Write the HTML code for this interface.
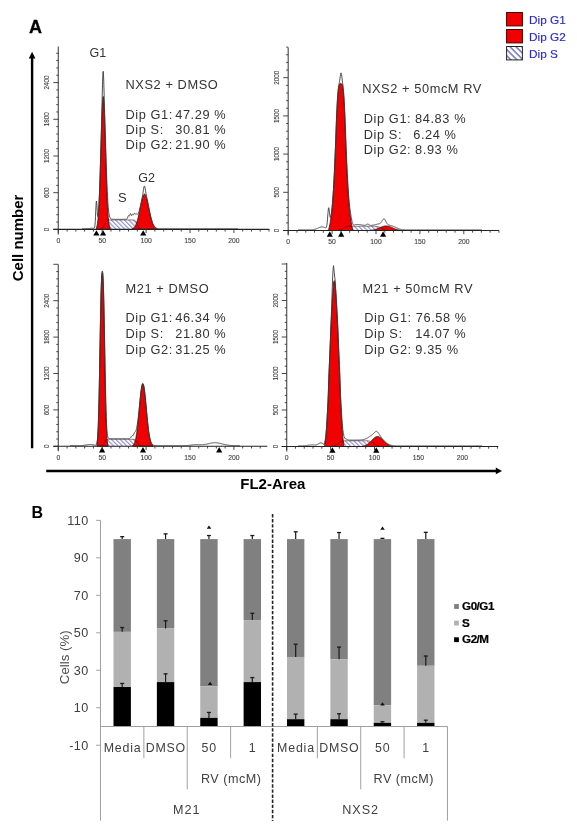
<!DOCTYPE html><html><head><meta charset="utf-8"><style>html,body{margin:0;padding:0;background:#fff;}svg{display:block;will-change:transform}</style></head><body>
<svg width="577" height="826" viewBox="0 0 577 826" font-family='"Liberation Sans", sans-serif'>
<defs><pattern id="hatch" patternUnits="userSpaceOnUse" width="3.1" height="3.1" patternTransform="rotate(-45)"><rect width="3.1" height="3.1" fill="#fff"/><line x1="0.6" y1="0" x2="0.6" y2="3.1" stroke="#8484d2" stroke-width="1.05"/></pattern><pattern id="hatchL" patternUnits="userSpaceOnUse" x="506" y="46" width="4.3" height="4.3" patternTransform="rotate(-45 514 53)"><rect width="4.3" height="4.3" fill="#fff"/><line x1="1" y1="0" x2="1" y2="4.3" stroke="#5a5ac0" stroke-width="1.3"/></pattern></defs>
<rect width="577" height="826" fill="#fff"/>
<text x="29.1" y="32.9" font-size="18" font-weight="bold" fill="#000" stroke="#000" stroke-width="0.3">A</text>
<rect x="506.6" y="12.5" width="15.8" height="13.4" fill="#f20000" stroke="#400" stroke-width="1"/>
<text x="529.0" y="23.6" font-size="11.8" fill="#2a2acc" stroke="#2a2acc" stroke-width="0.15">Dip G1</text>
<rect x="506.6" y="29.5" width="15.8" height="13.4" fill="#f20000" stroke="#400" stroke-width="1"/>
<text x="529.0" y="40.6" font-size="11.8" fill="#2a2acc" stroke="#2a2acc" stroke-width="0.15">Dip G2</text>
<rect x="506.6" y="46.5" width="15.8" height="13.4" fill="url(#hatchL)" stroke="#222" stroke-width="1"/>
<text x="529.0" y="57.6" font-size="11.8" fill="#2a2acc" stroke="#2a2acc" stroke-width="0.15">Dip S</text>
<line x1="32.1" y1="56" x2="32.1" y2="448.2" stroke="#000" stroke-width="2.4"/>
<path d="M32.1,51.8 L28.8,58.4 L35.4,58.4 Z" fill="#000"/>
<line x1="46.2" y1="470.9" x2="497" y2="470.9" stroke="#000" stroke-width="2.5"/>
<path d="M502,470.9 L495.8,467.6 L495.8,474.2 Z" fill="#000"/>
<text transform="translate(22.6 237.9) rotate(-90)" text-anchor="middle" font-size="15" font-weight="bold" fill="#000">Cell number</text>
<text x="240.3" y="489.2" font-size="15" font-weight="bold" fill="#000">FL2-Area</text>
<path d="M100.50,229.40 L100.50,229.34 L100.75,229.31 L101.00,229.26 L101.25,229.20 L101.50,229.11 L101.75,228.99 L102.00,228.84 L102.25,228.64 L102.50,228.40 L102.75,228.10 L103.00,227.74 L103.25,227.34 L103.50,226.87 L103.75,226.36 L104.00,225.82 L104.25,225.24 L104.50,224.65 L104.75,224.06 L105.00,223.48 L105.25,222.94 L105.50,222.43 L105.75,221.96 L106.00,221.56 L106.25,221.20 L106.50,220.90 L106.75,220.66 L107.00,220.46 L107.25,220.31 L107.50,220.19 L107.75,220.10 L108.00,220.04 L108.25,219.99 L108.50,219.96 L108.75,219.94 L109.00,219.92 L109.25,219.91 L109.50,219.91 L109.75,219.90 L110.00,219.90 L110.25,219.90 L110.50,219.90 L110.75,219.90 L111.00,219.90 L111.25,219.90 L111.50,219.90 L111.75,219.90 L112.00,219.90 L112.25,219.90 L112.50,219.90 L112.75,219.90 L113.00,219.90 L113.25,219.90 L113.50,219.90 L113.75,219.90 L114.00,219.90 L114.25,219.90 L114.50,219.90 L114.75,219.90 L115.00,219.90 L115.25,219.90 L115.50,219.90 L115.75,219.90 L116.00,219.90 L116.25,219.90 L116.50,219.90 L116.75,219.90 L117.00,219.90 L117.25,219.90 L117.50,219.90 L117.75,219.90 L118.00,219.90 L118.25,219.90 L118.50,219.90 L118.75,219.90 L119.00,219.90 L119.25,219.90 L119.50,219.90 L119.75,219.90 L120.00,219.90 L120.25,219.90 L120.50,219.90 L120.75,219.90 L121.00,219.90 L121.25,219.90 L121.50,219.90 L121.75,219.90 L122.00,219.90 L122.25,219.90 L122.50,219.90 L122.75,219.90 L123.00,219.90 L123.25,219.90 L123.50,219.90 L123.75,219.90 L124.00,219.90 L124.25,219.90 L124.50,219.90 L124.75,219.90 L125.00,219.90 L125.25,219.90 L125.50,219.90 L125.75,219.90 L126.00,219.90 L126.25,219.90 L126.50,219.90 L126.75,219.90 L127.00,219.90 L127.25,219.90 L127.50,219.90 L127.75,219.90 L128.00,219.90 L128.25,219.90 L128.50,219.90 L128.75,219.90 L129.00,219.90 L129.25,219.90 L129.50,219.90 L129.75,219.90 L130.00,219.90 L130.25,219.90 L130.50,219.90 L130.75,219.90 L131.00,219.90 L131.25,219.90 L131.50,219.90 L131.75,219.90 L132.00,219.90 L132.25,219.90 L132.50,219.91 L132.75,219.91 L133.00,219.92 L133.25,219.94 L133.50,219.96 L133.75,219.99 L134.00,220.04 L134.25,220.10 L134.50,220.19 L134.75,220.31 L135.00,220.46 L135.25,220.66 L135.50,220.90 L135.75,221.20 L136.00,221.56 L136.25,221.96 L136.50,222.43 L136.75,222.94 L137.00,223.48 L137.25,224.06 L137.50,224.65 L137.75,225.24 L138.00,225.82 L138.25,226.36 L138.50,226.87 L138.75,227.34 L139.00,227.74 L139.25,228.10 L139.50,228.40 L139.75,228.64 L140.00,228.84 L140.25,228.99 L140.50,229.11 L140.75,229.20 L141.00,229.26 L141.25,229.31 L141.50,229.34 L141.50,229.40 Z" fill="url(#hatch)" stroke="none"/>
<path d="M96.50,229.40 L96.50,227.49 L96.75,226.79 L97.00,225.88 L97.25,224.72 L97.50,223.23 L97.75,221.37 L98.00,219.07 L98.25,216.28 L98.50,212.92 L98.75,208.94 L99.00,204.30 L99.25,198.96 L99.50,192.93 L99.75,186.22 L100.00,178.87 L100.25,170.97 L100.50,162.63 L100.75,153.99 L101.00,145.23 L101.25,136.55 L101.50,128.19 L101.75,120.37 L102.00,113.32 L102.25,107.27 L102.50,102.42 L102.75,98.92 L103.00,96.90 L103.25,96.43 L103.50,97.53 L103.75,100.15 L104.00,104.21 L104.25,109.56 L104.50,116.03 L104.75,123.42 L105.00,131.48 L105.25,140.00 L105.50,148.73 L105.75,157.47 L106.00,166.01 L106.25,174.19 L106.50,181.88 L106.75,188.99 L107.00,195.43 L107.25,201.18 L107.50,206.23 L107.75,210.60 L108.00,214.33 L108.25,217.46 L108.50,220.05 L108.75,222.16 L109.00,223.87 L109.25,225.22 L109.50,226.28 L109.75,227.09 L110.00,227.72 L110.00,229.40 Z" fill="#f00000" stroke="#1a1a1a" stroke-width="0.8"/>
<path d="M131.75,229.40 L131.75,228.96 L132.00,228.88 L132.25,228.79 L132.50,228.68 L132.75,228.56 L133.00,228.41 L133.25,228.25 L133.50,228.06 L133.75,227.85 L134.00,227.61 L134.25,227.34 L134.50,227.04 L134.75,226.70 L135.00,226.32 L135.25,225.91 L135.50,225.45 L135.75,224.95 L136.00,224.40 L136.25,223.80 L136.50,223.15 L136.75,222.44 L137.00,221.69 L137.25,220.88 L137.50,220.02 L137.75,219.10 L138.00,218.14 L138.25,217.12 L138.50,216.07 L138.75,214.96 L139.00,213.82 L139.25,212.65 L139.50,211.45 L139.75,210.22 L140.00,208.98 L140.25,207.74 L140.50,206.50 L140.75,205.27 L141.00,204.05 L141.25,202.87 L141.50,201.73 L141.75,200.63 L142.00,199.59 L142.25,198.62 L142.50,197.72 L142.75,196.91 L143.00,196.18 L143.25,195.56 L143.50,195.04 L143.75,194.63 L144.00,194.34 L144.25,194.16 L144.50,194.10 L144.75,194.16 L145.00,194.34 L145.25,194.63 L145.50,195.04 L145.75,195.56 L146.00,196.18 L146.25,196.91 L146.50,197.72 L146.75,198.62 L147.00,199.59 L147.25,200.63 L147.50,201.73 L147.75,202.87 L148.00,204.05 L148.25,205.27 L148.50,206.50 L148.75,207.74 L149.00,208.98 L149.25,210.22 L149.50,211.45 L149.75,212.65 L150.00,213.82 L150.25,214.96 L150.50,216.07 L150.75,217.12 L151.00,218.14 L151.25,219.10 L151.50,220.02 L151.75,220.88 L152.00,221.69 L152.25,222.44 L152.50,223.15 L152.75,223.80 L153.00,224.40 L153.25,224.95 L153.50,225.45 L153.75,225.91 L154.00,226.32 L154.25,226.70 L154.50,227.04 L154.75,227.34 L155.00,227.61 L155.25,227.85 L155.50,228.06 L155.75,228.25 L156.00,228.41 L156.25,228.56 L156.50,228.68 L156.75,228.79 L157.00,228.88 L157.25,228.96 L157.25,229.40 Z" fill="#f00000" stroke="#1a1a1a" stroke-width="0.8"/>
<path d="M100.50,229.34 L100.75,229.31 L101.00,229.26 L101.25,229.20 L101.50,229.11 L101.75,228.99 L102.00,228.84 L102.25,228.64 L102.50,228.40 L102.75,228.10 L103.00,227.74 L103.25,227.34 L103.50,226.87 L103.75,226.36 L104.00,225.82 L104.25,225.24 L104.50,224.65 L104.75,224.06 L105.00,223.48 L105.25,222.94 L105.50,222.43 L105.75,221.96 L106.00,221.56 L106.25,221.20 L106.50,220.90 L106.75,220.66 L107.00,220.46 L107.25,220.31 L107.50,220.19 L107.75,220.10 L108.00,220.04 L108.25,219.99 L108.50,219.96 L108.75,219.94 L109.00,219.92 L109.25,219.91 L109.50,219.91 L109.75,219.90 L110.00,219.90 L110.25,219.90 L110.50,219.90 L110.75,219.90 L111.00,219.90 L111.25,219.90 L111.50,219.90 L111.75,219.90 L112.00,219.90 L112.25,219.90 L112.50,219.90 L112.75,219.90 L113.00,219.90 L113.25,219.90 L113.50,219.90 L113.75,219.90 L114.00,219.90 L114.25,219.90 L114.50,219.90 L114.75,219.90 L115.00,219.90 L115.25,219.90 L115.50,219.90 L115.75,219.90 L116.00,219.90 L116.25,219.90 L116.50,219.90 L116.75,219.90 L117.00,219.90 L117.25,219.90 L117.50,219.90 L117.75,219.90 L118.00,219.90 L118.25,219.90 L118.50,219.90 L118.75,219.90 L119.00,219.90 L119.25,219.90 L119.50,219.90 L119.75,219.90 L120.00,219.90 L120.25,219.90 L120.50,219.90 L120.75,219.90 L121.00,219.90 L121.25,219.90 L121.50,219.90 L121.75,219.90 L122.00,219.90 L122.25,219.90 L122.50,219.90 L122.75,219.90 L123.00,219.90 L123.25,219.90 L123.50,219.90 L123.75,219.90 L124.00,219.90 L124.25,219.90 L124.50,219.90 L124.75,219.90 L125.00,219.90 L125.25,219.90 L125.50,219.90 L125.75,219.90 L126.00,219.90 L126.25,219.90 L126.50,219.90 L126.75,219.90 L127.00,219.90 L127.25,219.90 L127.50,219.90 L127.75,219.90 L128.00,219.90 L128.25,219.90 L128.50,219.90 L128.75,219.90 L129.00,219.90 L129.25,219.90 L129.50,219.90 L129.75,219.90 L130.00,219.90 L130.25,219.90 L130.50,219.90 L130.75,219.90 L131.00,219.90 L131.25,219.90 L131.50,219.90 L131.75,219.90 L132.00,219.90 L132.25,219.90 L132.50,219.91 L132.75,219.91 L133.00,219.92 L133.25,219.94 L133.50,219.96 L133.75,219.99 L134.00,220.04 L134.25,220.10 L134.50,220.19 L134.75,220.31 L135.00,220.46 L135.25,220.66 L135.50,220.90 L135.75,221.20 L136.00,221.56 L136.25,221.96 L136.50,222.43 L136.75,222.94 L137.00,223.48 L137.25,224.06 L137.50,224.65 L137.75,225.24 L138.00,225.82 L138.25,226.36 L138.50,226.87 L138.75,227.34 L139.00,227.74 L139.25,228.10 L139.50,228.40 L139.75,228.64 L140.00,228.84 L140.25,228.99 L140.50,229.11 L140.75,229.20 L141.00,229.26 L141.25,229.31 L141.50,229.34" fill="none" stroke="#3a1010" stroke-width="0.7" opacity="0.8"/>
<path d="M82.00,228.80 L82.25,228.80 L82.50,228.80 L82.75,228.80 L83.00,228.80 L83.25,228.80 L83.50,228.80 L83.75,228.80 L84.00,228.80 L84.25,228.80 L84.50,228.79 L84.75,228.79 L85.00,228.79 L85.25,228.78 L85.50,228.78 L85.75,228.77 L86.00,228.77 L86.25,228.76 L86.50,228.75 L86.75,228.73 L87.00,228.72 L87.25,228.70 L87.50,228.68 L87.75,228.66 L88.00,228.63 L88.25,228.61 L88.50,228.57 L88.75,228.54 L89.00,228.51 L89.25,228.47 L89.50,228.44 L89.75,228.40 L90.00,228.36 L90.25,228.33 L90.50,228.30 L90.75,228.27 L91.00,228.25 L91.25,228.23 L91.50,228.21 L91.75,228.20 L92.00,228.20 L92.25,228.20 L92.50,228.21 L92.75,228.22 L93.00,228.24 L93.25,228.26 L93.50,228.28 L93.75,228.28 L94.00,228.25 L94.25,228.10 L94.50,227.68 L94.75,226.70 L95.00,224.76 L95.25,221.46 L95.50,216.71 L95.75,211.01 L96.00,205.56 L96.25,201.86 L96.50,201.03 L96.75,203.15 L97.00,207.20 L97.25,211.61 L97.50,215.01 L97.75,216.68 L98.00,216.53 L98.25,214.86 L98.50,212.00 L98.75,208.23 L99.00,203.65 L99.25,198.34 L99.50,192.32 L99.75,185.60 L100.00,178.25 L100.25,170.33 L100.50,161.94 L100.75,153.21 L101.00,144.23 L101.25,135.05 L101.50,125.61 L101.75,115.78 L102.00,105.47 L102.25,94.91 L102.50,84.89 L102.75,76.72 L103.00,71.88 L103.25,71.29 L103.50,74.86 L103.75,81.57 L104.00,89.96 L104.25,98.84 L104.50,107.57 L104.75,116.05 L105.00,124.39 L105.25,132.73 L105.50,141.09 L105.75,149.41 L106.00,157.56 L106.25,165.39 L106.50,172.79 L106.75,179.64 L107.00,185.89 L107.25,191.49 L107.50,196.42 L107.75,200.71 L108.00,204.37 L108.25,207.45 L108.50,210.01 L108.75,212.10 L109.00,213.79 L109.25,215.13 L109.50,216.19 L109.75,217.00 L110.00,217.62 L110.25,218.09 L110.50,218.44 L110.75,218.69 L111.00,218.88 L111.25,219.01 L111.50,219.10 L111.75,219.17 L112.00,219.21 L112.25,219.24 L112.50,219.26 L112.75,219.28 L113.00,219.28 L113.25,219.29 L113.50,219.29 L113.75,219.30 L114.00,219.30 L114.25,219.30 L114.50,219.30 L114.75,219.30 L115.00,219.30 L115.25,219.30 L115.50,219.30 L115.75,219.30 L116.00,219.30 L116.25,219.30 L116.50,219.30 L116.75,219.30 L117.00,219.30 L117.25,219.30 L117.50,219.30 L117.75,219.30 L118.00,219.30 L118.25,219.30 L118.50,219.30 L118.75,219.30 L119.00,219.30 L119.25,219.30 L119.50,219.30 L119.75,219.30 L120.00,219.30 L120.25,219.30 L120.50,219.30 L120.75,219.30 L121.00,219.30 L121.25,219.30 L121.50,219.30 L121.75,219.30 L122.00,219.30 L122.25,219.30 L122.50,219.30 L122.75,219.30 L123.00,219.30 L123.25,219.30 L123.50,219.30 L123.75,219.30 L124.00,219.30 L124.25,219.30 L124.50,219.30 L124.75,219.30 L125.00,219.30 L125.25,219.30 L125.50,219.30 L125.75,219.30 L126.00,219.29 L126.25,219.28 L126.50,219.24 L126.75,219.14 L127.00,218.94 L127.25,218.58 L127.50,218.02 L127.75,217.31 L128.00,216.56 L128.25,215.96 L128.50,215.67 L128.75,215.73 L129.00,215.98 L129.25,216.15 L129.50,215.98 L129.75,215.39 L130.00,214.56 L130.25,213.82 L130.50,213.50 L130.75,213.73 L131.00,214.37 L131.25,215.08 L131.50,215.51 L131.75,215.49 L132.00,215.10 L132.25,214.62 L132.50,214.32 L132.75,214.32 L133.00,214.54 L133.25,214.75 L133.50,214.75 L133.75,214.45 L134.00,213.95 L134.25,213.45 L134.50,213.15 L134.75,213.15 L135.00,213.42 L135.25,213.82 L135.50,214.15 L135.75,214.28 L136.00,214.20 L136.25,214.02 L136.50,213.90 L136.75,213.93 L137.00,214.08 L137.25,214.24 L137.50,214.29 L137.75,214.17 L138.00,213.89 L138.25,213.47 L138.50,212.93 L138.75,212.30 L139.00,211.57 L139.25,210.75 L139.50,209.84 L139.75,208.86 L140.00,207.82 L140.25,206.73 L140.50,205.61 L140.75,204.46 L141.00,203.29 L141.25,202.13 L141.50,200.95 L141.75,199.77 L142.00,198.54 L142.25,197.26 L142.50,195.88 L142.75,194.38 L143.00,192.77 L143.25,191.09 L143.50,189.44 L143.75,187.96 L144.00,186.81 L144.25,186.14 L144.50,186.04 L144.75,186.51 L145.00,187.47 L145.25,188.81 L145.50,190.35 L145.75,191.95 L146.00,193.50 L146.25,194.95 L146.50,196.29 L146.75,197.54 L147.00,198.73 L147.25,199.90 L147.50,201.06 L147.75,202.24 L148.00,203.44 L148.25,204.66 L148.50,205.90 L148.75,207.14 L149.00,208.38 L149.25,209.62 L149.50,210.85 L149.75,212.05 L150.00,213.22 L150.25,214.36 L150.50,215.47 L150.75,216.52 L151.00,217.54 L151.25,218.50 L151.50,219.42 L151.75,220.28 L152.00,221.09 L152.25,221.84 L152.50,222.55 L152.75,223.20 L153.00,223.80 L153.25,224.35 L153.50,224.85 L153.75,225.31 L154.00,225.72 L154.25,226.10 L154.50,226.44 L154.75,226.74 L155.00,227.01 L155.25,227.25 L155.50,227.46 L155.75,227.65 L156.00,227.81 L156.25,227.96 L156.50,228.08 L156.75,228.19 L157.00,228.28 L157.25,228.36 L157.50,228.43 L157.75,228.49 L158.00,228.54 L158.25,228.59 L158.50,228.62 L158.75,228.65 L159.00,228.68 L159.25,228.70 L159.50,228.72 L159.75,228.73 L160.00,228.75 L160.25,228.76 L160.50,228.77 L160.75,228.77 L161.00,228.78 L161.25,228.78 L161.50,228.79 L161.75,228.79 L162.00,228.79 L162.25,228.79 L162.50,228.79 L162.75,228.80 L163.00,228.80 L163.25,228.80 L163.50,228.80 L163.75,228.80 L164.00,228.80 L164.25,228.80 L164.50,228.80 L164.75,228.80 L165.00,228.80 L165.25,228.80 L165.50,228.80 L165.75,228.80 L166.00,228.80 L166.25,228.80 L166.50,228.80 L166.75,228.80 L167.00,228.80 L167.25,228.80 L167.50,228.80 L167.75,228.80 L168.00,228.80 L168.25,228.80 L168.50,228.80 L168.75,228.80 L169.00,228.80 L169.25,228.80 L169.50,228.80 L169.75,228.80 L170.00,228.80 L170.25,228.80 L170.50,228.80 L170.75,228.80 L171.00,228.80 L171.25,228.80 L171.50,228.80 L171.75,228.80 L172.00,228.80 L172.25,228.80 L172.50,228.80 L172.75,228.80 L173.00,228.80 L173.25,228.80 L173.50,228.80 L173.75,228.80 L174.00,228.80 L174.25,228.80 L174.50,228.80 L174.75,228.80 L175.00,228.80 L175.25,228.80 L175.50,228.80 L175.75,228.80 L176.00,228.80 L176.25,228.80 L176.50,228.80 L176.75,228.80 L177.00,228.80 L177.25,228.80 L177.50,228.80 L177.75,228.80 L178.00,228.80 L178.25,228.80 L178.50,228.80 L178.75,228.80 L179.00,228.80 L179.25,228.80 L179.50,228.80 L179.75,228.80 L180.00,228.80 L180.25,228.80 L180.50,228.80 L180.75,228.80 L181.00,228.80 L181.25,228.80 L181.50,228.80 L181.75,228.80 L182.00,228.80 L182.25,228.80 L182.50,228.80 L182.75,228.80 L183.00,228.80 L183.25,228.80 L183.50,228.80 L183.75,228.80 L184.00,228.80 L184.25,228.80 L184.50,228.80 L184.75,228.80 L185.00,228.80 L185.25,228.80 L185.50,228.80 L185.75,228.80 L186.00,228.80 L186.25,228.80 L186.50,228.80 L186.75,228.80 L187.00,228.80 L187.25,228.80 L187.50,228.80 L187.75,228.80 L188.00,228.80 L188.25,228.80 L188.50,228.80 L188.75,228.80 L189.00,228.80 L189.25,228.80 L189.50,228.80 L189.75,228.80 L190.00,228.80 L190.25,228.80 L190.50,228.80 L190.75,228.80 L191.00,228.80 L191.25,228.80 L191.50,228.80 L191.75,228.80 L192.00,228.80 L192.25,228.80 L192.50,228.80 L192.75,228.80 L193.00,228.80 L193.25,228.80 L193.50,228.80 L193.75,228.80 L194.00,228.80 L194.25,228.80 L194.50,228.80 L194.75,228.80 L195.00,228.80 L195.25,228.80 L195.50,228.80 L195.75,228.80 L196.00,228.80 L196.25,228.80 L196.50,228.80 L196.75,228.80 L197.00,228.80 L197.25,228.80 L197.50,228.80 L197.75,228.80 L198.00,228.80 L198.25,228.80 L198.50,228.80 L198.75,228.80 L199.00,228.80 L199.25,228.80 L199.50,228.80 L199.75,228.80 L200.00,228.80 L200.25,228.80 L200.50,228.80 L200.75,228.80 L201.00,228.80 L201.25,228.80 L201.50,228.80 L201.75,228.80 L202.00,228.80 L202.25,228.80 L202.50,228.80 L202.75,228.80 L203.00,228.80 L203.25,228.80 L203.50,228.80 L203.75,228.80 L204.00,228.80 L204.25,228.80 L204.50,228.80 L204.75,228.80 L205.00,228.80 L205.25,228.80 L205.50,228.80 L205.75,228.80 L206.00,228.80 L206.25,228.80 L206.50,228.80 L206.75,228.80 L207.00,228.80 L207.25,228.80 L207.50,228.80 L207.75,228.80 L208.00,228.80 L208.25,228.80 L208.50,228.80 L208.75,228.80 L209.00,228.80 L209.25,228.80 L209.50,228.80 L209.75,228.80 L210.00,228.80 L210.25,228.80 L210.50,228.80 L210.75,228.80 L211.00,228.80 L211.25,228.80 L211.50,228.80 L211.75,228.80 L212.00,228.80 L212.25,228.80 L212.50,228.80 L212.75,228.80 L213.00,228.80 L213.25,228.80 L213.50,228.80 L213.75,228.80 L214.00,228.80 L214.25,228.80 L214.50,228.80 L214.75,228.80 L215.00,228.80 L215.25,228.80 L215.50,228.80 L215.75,228.80 L216.00,228.80 L216.25,228.80 L216.50,228.80 L216.75,228.80 L217.00,228.80 L217.25,228.80 L217.50,228.80 L217.75,228.80 L218.00,228.80 L218.25,228.80 L218.50,228.80 L218.75,228.80 L219.00,228.80 L219.25,228.80 L219.50,228.80 L219.75,228.80 L220.00,228.80 L220.25,228.80 L220.50,228.80 L220.75,228.80 L221.00,228.80 L221.25,228.80 L221.50,228.80 L221.75,228.80 L222.00,228.80 L222.25,228.80 L222.50,228.80 L222.75,228.80 L223.00,228.80 L223.25,228.80 L223.50,228.80 L223.75,228.80 L224.00,228.80 L224.25,228.80 L224.50,228.80 L224.75,228.80 L225.00,228.80 L225.25,228.80 L225.50,228.80 L225.75,228.80 L226.00,228.80 L226.25,228.80 L226.50,228.80 L226.75,228.80 L227.00,228.80 L227.25,228.80 L227.50,228.80 L227.75,228.80 L228.00,228.80 L228.25,228.80 L228.50,228.80 L228.75,228.80 L229.00,228.80 L229.25,228.80 L229.50,228.80 L229.75,228.80 L230.00,228.80 L230.25,228.80 L230.50,228.80 L230.75,228.80 L231.00,228.80 L231.25,228.80 L231.50,228.80 L231.75,228.80 L232.00,228.80 L232.25,228.80 L232.50,228.80 L232.75,228.80 L233.00,228.80 L233.25,228.80 L233.50,228.80 L233.75,228.80 L234.00,228.80 L234.25,228.80 L234.50,228.80 L234.75,228.80 L235.00,228.80 L235.25,228.80 L235.50,228.80 L235.75,228.80 L236.00,228.80 L236.25,228.80 L236.50,228.80 L236.75,228.80 L237.00,228.80 L237.25,228.80 L237.50,228.80 L237.75,228.80 L238.00,228.80" fill="none" stroke="#3a3a3a" stroke-width="0.9"/>
<path d="M96.4,230.20000000000002 L93.30000000000001,235.6 L99.5,235.6 Z" fill="#000"/>
<path d="M103.1,230.20000000000002 L100.0,235.6 L106.19999999999999,235.6 Z" fill="#000"/>
<path d="M143.2,230.20000000000002 L140.1,235.6 L146.29999999999998,235.6 Z" fill="#000"/>
<line x1="58.3" y1="46.5" x2="58.3" y2="234.4" stroke="#555" stroke-width="1.2"/>
<line x1="53.30" y1="229.40" x2="58.3" y2="229.40" stroke="#333" stroke-width="0.9"/>
<text x="47.10" y="229.40" transform="rotate(-90 47.10 229.40)" text-anchor="middle" dy="2.2" font-size="6.3" fill="#444" stroke="#444" stroke-width="0.12">0</text>
<line x1="56.30" y1="222.06" x2="58.3" y2="222.06" stroke="#333" stroke-width="0.9"/>
<line x1="56.30" y1="214.72" x2="58.3" y2="214.72" stroke="#333" stroke-width="0.9"/>
<line x1="56.30" y1="207.38" x2="58.3" y2="207.38" stroke="#333" stroke-width="0.9"/>
<line x1="56.30" y1="200.04" x2="58.3" y2="200.04" stroke="#333" stroke-width="0.9"/>
<line x1="53.30" y1="192.70" x2="58.3" y2="192.70" stroke="#333" stroke-width="0.9"/>
<text x="47.10" y="192.70" transform="rotate(-90 47.10 192.70)" text-anchor="middle" dy="2.2" font-size="6.3" fill="#444" stroke="#444" stroke-width="0.12">600</text>
<line x1="56.30" y1="185.36" x2="58.3" y2="185.36" stroke="#333" stroke-width="0.9"/>
<line x1="56.30" y1="178.02" x2="58.3" y2="178.02" stroke="#333" stroke-width="0.9"/>
<line x1="56.30" y1="170.68" x2="58.3" y2="170.68" stroke="#333" stroke-width="0.9"/>
<line x1="56.30" y1="163.34" x2="58.3" y2="163.34" stroke="#333" stroke-width="0.9"/>
<line x1="53.30" y1="156.00" x2="58.3" y2="156.00" stroke="#333" stroke-width="0.9"/>
<text x="47.10" y="156.00" transform="rotate(-90 47.10 156.00)" text-anchor="middle" dy="2.2" font-size="6.3" fill="#444" stroke="#444" stroke-width="0.12">1200</text>
<line x1="56.30" y1="148.66" x2="58.3" y2="148.66" stroke="#333" stroke-width="0.9"/>
<line x1="56.30" y1="141.32" x2="58.3" y2="141.32" stroke="#333" stroke-width="0.9"/>
<line x1="56.30" y1="133.98" x2="58.3" y2="133.98" stroke="#333" stroke-width="0.9"/>
<line x1="56.30" y1="126.64" x2="58.3" y2="126.64" stroke="#333" stroke-width="0.9"/>
<line x1="53.30" y1="119.30" x2="58.3" y2="119.30" stroke="#333" stroke-width="0.9"/>
<text x="47.10" y="119.30" transform="rotate(-90 47.10 119.30)" text-anchor="middle" dy="2.2" font-size="6.3" fill="#444" stroke="#444" stroke-width="0.12">1800</text>
<line x1="56.30" y1="111.96" x2="58.3" y2="111.96" stroke="#333" stroke-width="0.9"/>
<line x1="56.30" y1="104.62" x2="58.3" y2="104.62" stroke="#333" stroke-width="0.9"/>
<line x1="56.30" y1="97.28" x2="58.3" y2="97.28" stroke="#333" stroke-width="0.9"/>
<line x1="56.30" y1="89.94" x2="58.3" y2="89.94" stroke="#333" stroke-width="0.9"/>
<line x1="53.30" y1="82.60" x2="58.3" y2="82.60" stroke="#333" stroke-width="0.9"/>
<text x="47.10" y="82.60" transform="rotate(-90 47.10 82.60)" text-anchor="middle" dy="2.2" font-size="6.3" fill="#444" stroke="#444" stroke-width="0.12">2400</text>
<line x1="56.30" y1="75.26" x2="58.3" y2="75.26" stroke="#333" stroke-width="0.9"/>
<line x1="56.30" y1="67.92" x2="58.3" y2="67.92" stroke="#333" stroke-width="0.9"/>
<line x1="56.30" y1="60.58" x2="58.3" y2="60.58" stroke="#333" stroke-width="0.9"/>
<line x1="56.30" y1="53.24" x2="58.3" y2="53.24" stroke="#333" stroke-width="0.9"/>
<line x1="53.3" y1="229.4" x2="269.4" y2="229.4" stroke="#222" stroke-width="1.1"/>
<line x1="58.30" y1="229.4" x2="58.30" y2="233.0" stroke="#333" stroke-width="0.9"/>
<line x1="67.08" y1="229.4" x2="67.08" y2="231.6" stroke="#333" stroke-width="0.9"/>
<line x1="75.86" y1="229.4" x2="75.86" y2="231.6" stroke="#333" stroke-width="0.9"/>
<line x1="84.64" y1="229.4" x2="84.64" y2="231.6" stroke="#333" stroke-width="0.9"/>
<line x1="93.42" y1="229.4" x2="93.42" y2="231.6" stroke="#333" stroke-width="0.9"/>
<line x1="102.20" y1="229.4" x2="102.20" y2="233.0" stroke="#333" stroke-width="0.9"/>
<line x1="110.98" y1="229.4" x2="110.98" y2="231.6" stroke="#333" stroke-width="0.9"/>
<line x1="119.76" y1="229.4" x2="119.76" y2="231.6" stroke="#333" stroke-width="0.9"/>
<line x1="128.54" y1="229.4" x2="128.54" y2="231.6" stroke="#333" stroke-width="0.9"/>
<line x1="137.32" y1="229.4" x2="137.32" y2="231.6" stroke="#333" stroke-width="0.9"/>
<line x1="146.10" y1="229.4" x2="146.10" y2="233.0" stroke="#333" stroke-width="0.9"/>
<line x1="154.88" y1="229.4" x2="154.88" y2="231.6" stroke="#333" stroke-width="0.9"/>
<line x1="163.66" y1="229.4" x2="163.66" y2="231.6" stroke="#333" stroke-width="0.9"/>
<line x1="172.44" y1="229.4" x2="172.44" y2="231.6" stroke="#333" stroke-width="0.9"/>
<line x1="181.22" y1="229.4" x2="181.22" y2="231.6" stroke="#333" stroke-width="0.9"/>
<line x1="190.00" y1="229.4" x2="190.00" y2="233.0" stroke="#333" stroke-width="0.9"/>
<line x1="198.78" y1="229.4" x2="198.78" y2="231.6" stroke="#333" stroke-width="0.9"/>
<line x1="207.56" y1="229.4" x2="207.56" y2="231.6" stroke="#333" stroke-width="0.9"/>
<line x1="216.34" y1="229.4" x2="216.34" y2="231.6" stroke="#333" stroke-width="0.9"/>
<line x1="225.12" y1="229.4" x2="225.12" y2="231.6" stroke="#333" stroke-width="0.9"/>
<line x1="233.90" y1="229.4" x2="233.90" y2="233.0" stroke="#333" stroke-width="0.9"/>
<line x1="242.68" y1="229.4" x2="242.68" y2="231.6" stroke="#333" stroke-width="0.9"/>
<line x1="251.46" y1="229.4" x2="251.46" y2="231.6" stroke="#333" stroke-width="0.9"/>
<line x1="260.24" y1="229.4" x2="260.24" y2="231.6" stroke="#333" stroke-width="0.9"/>
<line x1="269.02" y1="229.4" x2="269.02" y2="231.6" stroke="#333" stroke-width="0.9"/>
<text x="58.30" y="242.70000000000002" text-anchor="middle" font-size="6.8" fill="#444" stroke="#444" stroke-width="0.12">0</text>
<text x="102.20" y="242.70000000000002" text-anchor="middle" font-size="6.8" fill="#444" stroke="#444" stroke-width="0.12">50</text>
<text x="146.10" y="242.70000000000002" text-anchor="middle" font-size="6.8" fill="#444" stroke="#444" stroke-width="0.12">100</text>
<text x="190.00" y="242.70000000000002" text-anchor="middle" font-size="6.8" fill="#444" stroke="#444" stroke-width="0.12">150</text>
<text x="233.90" y="242.70000000000002" text-anchor="middle" font-size="6.8" fill="#444" stroke="#444" stroke-width="0.12">200</text>
<path d="M336.25,230.50 L336.25,230.45 L336.50,230.44 L336.75,230.42 L337.00,230.40 L337.25,230.38 L337.50,230.36 L337.75,230.33 L338.00,230.30 L338.25,230.26 L338.50,230.22 L338.75,230.17 L339.00,230.12 L339.25,230.06 L339.50,229.99 L339.75,229.91 L340.00,229.83 L340.25,229.75 L340.50,229.65 L340.75,229.55 L341.00,229.44 L341.25,229.32 L341.50,229.20 L341.75,229.08 L342.00,228.95 L342.25,228.81 L342.50,228.68 L342.75,228.54 L343.00,228.40 L343.25,228.26 L343.50,228.12 L343.75,227.99 L344.00,227.85 L344.25,227.72 L344.50,227.60 L344.75,227.48 L345.00,227.36 L345.25,227.25 L345.50,227.15 L345.75,227.05 L346.00,226.97 L346.25,226.89 L346.50,226.81 L346.75,226.74 L347.00,226.68 L347.25,226.63 L347.50,226.58 L347.75,226.54 L348.00,226.50 L348.25,226.47 L348.50,226.44 L348.75,226.42 L349.00,226.40 L349.25,226.38 L349.50,226.36 L349.75,226.35 L350.00,226.34 L350.25,226.33 L350.50,226.33 L350.75,226.32 L351.00,226.32 L351.25,226.31 L351.50,226.31 L351.75,226.31 L352.00,226.31 L352.25,226.30 L352.50,226.30 L352.75,226.30 L353.00,226.30 L353.25,226.30 L353.50,226.30 L353.75,226.30 L354.00,226.30 L354.25,226.30 L354.50,226.30 L354.75,226.30 L355.00,226.30 L355.25,226.30 L355.50,226.30 L355.75,226.30 L356.00,226.30 L356.25,226.30 L356.50,226.30 L356.75,226.30 L357.00,226.30 L357.25,226.30 L357.50,226.30 L357.75,226.30 L358.00,226.30 L358.25,226.30 L358.50,226.30 L358.75,226.30 L359.00,226.30 L359.25,226.30 L359.50,226.30 L359.75,226.30 L360.00,226.30 L360.25,226.30 L360.50,226.30 L360.75,226.30 L361.00,226.30 L361.25,226.30 L361.50,226.30 L361.75,226.30 L362.00,226.30 L362.25,226.30 L362.50,226.30 L362.75,226.30 L363.00,226.30 L363.25,226.30 L363.50,226.30 L363.75,226.30 L364.00,226.30 L364.25,226.30 L364.50,226.30 L364.75,226.30 L365.00,226.30 L365.25,226.30 L365.50,226.30 L365.75,226.30 L366.00,226.30 L366.25,226.30 L366.50,226.30 L366.75,226.30 L367.00,226.30 L367.25,226.30 L367.50,226.30 L367.75,226.30 L368.00,226.30 L368.25,226.30 L368.50,226.30 L368.75,226.30 L369.00,226.30 L369.25,226.30 L369.50,226.30 L369.75,226.30 L370.00,226.30 L370.25,226.30 L370.50,226.30 L370.75,226.30 L371.00,226.30 L371.25,226.30 L371.50,226.30 L371.75,226.30 L372.00,226.30 L372.25,226.30 L372.50,226.30 L372.75,226.30 L373.00,226.31 L373.25,226.31 L373.50,226.31 L373.75,226.31 L374.00,226.32 L374.25,226.32 L374.50,226.33 L374.75,226.33 L375.00,226.34 L375.25,226.35 L375.50,226.36 L375.75,226.38 L376.00,226.40 L376.25,226.42 L376.50,226.44 L376.75,226.47 L377.00,226.50 L377.25,226.54 L377.50,226.58 L377.75,226.63 L378.00,226.68 L378.25,226.74 L378.50,226.81 L378.75,226.89 L379.00,226.97 L379.25,227.05 L379.50,227.15 L379.75,227.25 L380.00,227.36 L380.25,227.48 L380.50,227.60 L380.75,227.72 L381.00,227.85 L381.25,227.99 L381.50,228.12 L381.75,228.26 L382.00,228.40 L382.25,228.54 L382.50,228.68 L382.75,228.81 L383.00,228.95 L383.25,229.08 L383.50,229.20 L383.75,229.32 L384.00,229.44 L384.25,229.55 L384.50,229.65 L384.75,229.75 L385.00,229.83 L385.25,229.91 L385.50,229.99 L385.75,230.06 L386.00,230.12 L386.25,230.17 L386.50,230.22 L386.75,230.26 L387.00,230.30 L387.25,230.33 L387.50,230.36 L387.75,230.38 L388.00,230.40 L388.25,230.42 L388.50,230.44 L388.75,230.45 L388.75,230.50 Z" fill="url(#hatch)" stroke="none"/>
<path d="M328.75,230.50 L328.75,228.71 L329.00,228.04 L329.25,227.25 L329.50,226.00 L329.75,224.75 L330.00,223.50 L330.25,222.15 L330.50,220.40 L330.75,218.65 L331.00,216.90 L331.25,215.15 L331.50,213.40 L331.75,211.47 L332.00,208.83 L332.25,206.19 L332.50,203.56 L332.75,200.33 L333.00,196.72 L333.25,193.11 L333.50,189.50 L333.75,184.75 L334.00,180.00 L334.25,175.25 L334.50,170.50 L334.75,164.55 L335.00,158.60 L335.25,152.64 L335.50,146.69 L335.75,139.90 L336.00,132.90 L336.25,125.90 L336.50,118.90 L336.75,113.50 L337.00,108.50 L337.25,103.50 L337.50,98.92 L337.75,96.03 L338.00,93.13 L338.25,90.24 L338.50,88.03 L338.75,86.87 L339.00,85.70 L339.25,84.53 L339.50,84.16 L339.75,83.98 L340.00,83.80 L340.25,83.62 L340.50,83.44 L340.75,83.34 L341.00,83.51 L341.25,83.69 L341.50,83.87 L341.75,84.05 L342.00,84.23 L342.25,85.00 L342.50,86.17 L342.75,87.33 L343.00,88.50 L343.25,91.39 L343.50,94.29 L343.75,97.18 L344.00,100.50 L344.25,105.50 L344.50,110.50 L344.75,115.50 L345.00,121.70 L345.25,128.70 L345.50,135.70 L345.75,142.70 L346.00,149.07 L346.25,155.02 L346.50,160.98 L346.75,166.93 L347.00,172.40 L347.25,177.15 L347.50,181.90 L347.75,186.65 L348.00,190.94 L348.25,194.56 L348.50,198.17 L348.75,201.78 L349.00,204.61 L349.25,207.25 L349.50,209.89 L349.75,212.35 L350.00,214.10 L350.25,215.85 L350.50,217.60 L350.75,219.35 L351.00,221.10 L351.25,222.75 L351.50,224.00 L351.75,225.25 L352.00,226.50 L352.25,227.64 L352.50,228.31 L352.50,230.50 Z" fill="#f00000" stroke="#1a1a1a" stroke-width="0.8"/>
<path d="M371.50,230.50 L371.50,230.17 L371.75,230.14 L372.00,230.11 L372.25,230.08 L372.50,230.04 L372.75,230.00 L373.00,229.95 L373.25,229.91 L373.50,229.86 L373.75,229.81 L374.00,229.75 L374.25,229.69 L374.50,229.63 L374.75,229.57 L375.00,229.50 L375.25,229.43 L375.50,229.35 L375.75,229.28 L376.00,229.19 L376.25,229.11 L376.50,229.02 L376.75,228.93 L377.00,228.84 L377.25,228.75 L377.50,228.65 L377.75,228.55 L378.00,228.45 L378.25,228.34 L378.50,228.24 L378.75,228.13 L379.00,228.02 L379.25,227.91 L379.50,227.80 L379.75,227.69 L380.00,227.58 L380.25,227.47 L380.50,227.36 L380.75,227.25 L381.00,227.14 L381.25,227.04 L381.50,226.94 L381.75,226.84 L382.00,226.74 L382.25,226.65 L382.50,226.56 L382.75,226.47 L383.00,226.39 L383.25,226.32 L383.50,226.25 L383.75,226.18 L384.00,226.13 L384.25,226.07 L384.50,226.03 L384.75,225.99 L385.00,225.96 L385.25,225.93 L385.50,225.91 L385.75,225.90 L386.00,225.90 L386.25,225.90 L386.50,225.91 L386.75,225.93 L387.00,225.96 L387.25,225.99 L387.50,226.03 L387.75,226.07 L388.00,226.13 L388.25,226.18 L388.50,226.25 L388.75,226.32 L389.00,226.39 L389.25,226.47 L389.50,226.56 L389.75,226.65 L390.00,226.74 L390.25,226.84 L390.50,226.94 L390.75,227.04 L391.00,227.14 L391.25,227.25 L391.50,227.36 L391.75,227.47 L392.00,227.58 L392.25,227.69 L392.50,227.80 L392.75,227.91 L393.00,228.02 L393.25,228.13 L393.50,228.24 L393.75,228.34 L394.00,228.45 L394.25,228.55 L394.50,228.65 L394.75,228.75 L395.00,228.84 L395.25,228.93 L395.50,229.02 L395.75,229.11 L396.00,229.19 L396.25,229.28 L396.50,229.35 L396.75,229.43 L397.00,229.50 L397.25,229.57 L397.50,229.63 L397.75,229.69 L398.00,229.75 L398.25,229.81 L398.50,229.86 L398.75,229.91 L399.00,229.95 L399.25,230.00 L399.50,230.04 L399.75,230.08 L400.00,230.11 L400.25,230.14 L400.50,230.17 L400.50,230.50 Z" fill="#f00000" stroke="#1a1a1a" stroke-width="0.8"/>
<path d="M336.25,230.45 L336.50,230.44 L336.75,230.42 L337.00,230.40 L337.25,230.38 L337.50,230.36 L337.75,230.33 L338.00,230.30 L338.25,230.26 L338.50,230.22 L338.75,230.17 L339.00,230.12 L339.25,230.06 L339.50,229.99 L339.75,229.91 L340.00,229.83 L340.25,229.75 L340.50,229.65 L340.75,229.55 L341.00,229.44 L341.25,229.32 L341.50,229.20 L341.75,229.08 L342.00,228.95 L342.25,228.81 L342.50,228.68 L342.75,228.54 L343.00,228.40 L343.25,228.26 L343.50,228.12 L343.75,227.99 L344.00,227.85 L344.25,227.72 L344.50,227.60 L344.75,227.48 L345.00,227.36 L345.25,227.25 L345.50,227.15 L345.75,227.05 L346.00,226.97 L346.25,226.89 L346.50,226.81 L346.75,226.74 L347.00,226.68 L347.25,226.63 L347.50,226.58 L347.75,226.54 L348.00,226.50 L348.25,226.47 L348.50,226.44 L348.75,226.42 L349.00,226.40 L349.25,226.38 L349.50,226.36 L349.75,226.35 L350.00,226.34 L350.25,226.33 L350.50,226.33 L350.75,226.32 L351.00,226.32 L351.25,226.31 L351.50,226.31 L351.75,226.31 L352.00,226.31 L352.25,226.30 L352.50,226.30 L352.75,226.30 L353.00,226.30 L353.25,226.30 L353.50,226.30 L353.75,226.30 L354.00,226.30 L354.25,226.30 L354.50,226.30 L354.75,226.30 L355.00,226.30 L355.25,226.30 L355.50,226.30 L355.75,226.30 L356.00,226.30 L356.25,226.30 L356.50,226.30 L356.75,226.30 L357.00,226.30 L357.25,226.30 L357.50,226.30 L357.75,226.30 L358.00,226.30 L358.25,226.30 L358.50,226.30 L358.75,226.30 L359.00,226.30 L359.25,226.30 L359.50,226.30 L359.75,226.30 L360.00,226.30 L360.25,226.30 L360.50,226.30 L360.75,226.30 L361.00,226.30 L361.25,226.30 L361.50,226.30 L361.75,226.30 L362.00,226.30 L362.25,226.30 L362.50,226.30 L362.75,226.30 L363.00,226.30 L363.25,226.30 L363.50,226.30 L363.75,226.30 L364.00,226.30 L364.25,226.30 L364.50,226.30 L364.75,226.30 L365.00,226.30 L365.25,226.30 L365.50,226.30 L365.75,226.30 L366.00,226.30 L366.25,226.30 L366.50,226.30 L366.75,226.30 L367.00,226.30 L367.25,226.30 L367.50,226.30 L367.75,226.30 L368.00,226.30 L368.25,226.30 L368.50,226.30 L368.75,226.30 L369.00,226.30 L369.25,226.30 L369.50,226.30 L369.75,226.30 L370.00,226.30 L370.25,226.30 L370.50,226.30 L370.75,226.30 L371.00,226.30 L371.25,226.30 L371.50,226.30 L371.75,226.30 L372.00,226.30 L372.25,226.30 L372.50,226.30 L372.75,226.30 L373.00,226.31 L373.25,226.31 L373.50,226.31 L373.75,226.31 L374.00,226.32 L374.25,226.32 L374.50,226.33 L374.75,226.33 L375.00,226.34 L375.25,226.35 L375.50,226.36 L375.75,226.38 L376.00,226.40 L376.25,226.42 L376.50,226.44 L376.75,226.47 L377.00,226.50 L377.25,226.54 L377.50,226.58 L377.75,226.63 L378.00,226.68 L378.25,226.74 L378.50,226.81 L378.75,226.89 L379.00,226.97 L379.25,227.05 L379.50,227.15 L379.75,227.25 L380.00,227.36 L380.25,227.48 L380.50,227.60 L380.75,227.72 L381.00,227.85 L381.25,227.99 L381.50,228.12 L381.75,228.26 L382.00,228.40 L382.25,228.54 L382.50,228.68 L382.75,228.81 L383.00,228.95 L383.25,229.08 L383.50,229.20 L383.75,229.32 L384.00,229.44 L384.25,229.55 L384.50,229.65 L384.75,229.75 L385.00,229.83 L385.25,229.91 L385.50,229.99 L385.75,230.06 L386.00,230.12 L386.25,230.17 L386.50,230.22 L386.75,230.26 L387.00,230.30 L387.25,230.33 L387.50,230.36 L387.75,230.38 L388.00,230.40 L388.25,230.42 L388.50,230.44 L388.75,230.45" fill="none" stroke="#3a1010" stroke-width="0.7" opacity="0.8"/>
<path d="M298.00,229.90 L298.25,229.90 L298.50,229.90 L298.75,229.90 L299.00,229.90 L299.25,229.90 L299.50,229.90 L299.75,229.90 L300.00,229.90 L300.25,229.90 L300.50,229.90 L300.75,229.90 L301.00,229.90 L301.25,229.90 L301.50,229.90 L301.75,229.90 L302.00,229.90 L302.25,229.90 L302.50,229.90 L302.75,229.90 L303.00,229.90 L303.25,229.90 L303.50,229.90 L303.75,229.90 L304.00,229.90 L304.25,229.90 L304.50,229.90 L304.75,229.90 L305.00,229.90 L305.25,229.90 L305.50,229.90 L305.75,229.90 L306.00,229.90 L306.25,229.90 L306.50,229.90 L306.75,229.90 L307.00,229.90 L307.25,229.90 L307.50,229.90 L307.75,229.89 L308.00,229.89 L308.25,229.89 L308.50,229.89 L308.75,229.89 L309.00,229.88 L309.25,229.88 L309.50,229.88 L309.75,229.87 L310.00,229.87 L310.25,229.86 L310.50,229.85 L310.75,229.84 L311.00,229.83 L311.25,229.82 L311.50,229.80 L311.75,229.79 L312.00,229.77 L312.25,229.75 L312.50,229.72 L312.75,229.69 L313.00,229.66 L313.25,229.63 L313.50,229.59 L313.75,229.54 L314.00,229.49 L314.25,229.44 L314.50,229.38 L314.75,229.32 L315.00,229.25 L315.25,229.18 L315.50,229.10 L315.75,229.01 L316.00,228.93 L316.25,228.83 L316.50,228.73 L316.75,228.63 L317.00,228.53 L317.25,228.42 L317.50,228.31 L317.75,228.19 L318.00,228.08 L318.25,227.97 L318.50,227.85 L318.75,227.74 L319.00,227.64 L319.25,227.53 L319.50,227.43 L319.75,227.34 L320.00,227.25 L320.25,227.17 L320.50,227.10 L320.75,227.04 L321.00,226.99 L321.25,226.95 L321.50,226.92 L321.75,226.91 L322.00,226.90 L322.25,226.91 L322.50,226.92 L322.75,226.95 L323.00,226.99 L323.25,227.04 L323.50,227.10 L323.75,227.17 L324.00,227.25 L324.25,227.34 L324.50,227.43 L324.75,227.53 L325.00,227.63 L325.25,227.72 L325.50,227.80 L325.75,227.83 L326.00,227.77 L326.25,227.53 L326.50,226.99 L326.75,226.00 L327.00,224.41 L327.25,222.14 L327.50,219.26 L327.75,216.00 L328.00,212.73 L328.25,210.04 L328.50,208.11 L328.75,207.67 L329.00,208.67 L329.25,210.66 L329.50,212.75 L329.75,214.85 L330.00,216.53 L330.25,217.47 L330.50,217.33 L330.75,216.62 L331.00,215.49 L331.25,214.08 L331.50,212.51 L331.75,210.67 L332.00,208.09 L332.25,205.48 L332.50,202.86 L332.75,199.65 L333.00,196.05 L333.25,192.45 L333.50,188.85 L333.75,184.11 L334.00,179.36 L334.25,174.62 L334.50,169.87 L334.75,163.92 L335.00,157.96 L335.25,152.01 L335.50,146.05 L335.75,139.26 L336.00,132.25 L336.25,125.24 L336.50,118.23 L336.75,112.82 L337.00,107.80 L337.25,102.78 L337.50,98.18 L337.75,95.25 L338.00,92.32 L338.25,89.37 L338.50,87.08 L338.75,85.77 L339.00,84.32 L339.25,82.67 L339.50,81.49 L339.75,80.14 L340.00,78.41 L340.25,76.47 L340.50,74.59 L340.75,73.21 L341.00,72.85 L341.25,73.35 L341.50,74.57 L341.75,76.23 L342.00,77.96 L342.25,80.06 L342.50,82.19 L342.75,83.95 L343.00,85.40 L343.25,88.38 L343.50,91.24 L343.75,94.04 L344.00,97.24 L344.25,102.12 L344.50,106.99 L344.75,111.87 L345.00,117.95 L345.25,124.84 L345.50,131.74 L345.75,138.64 L346.00,144.92 L346.25,150.79 L346.50,156.67 L346.75,162.55 L347.00,167.96 L347.25,172.65 L347.50,177.34 L347.75,182.04 L348.00,186.29 L348.25,189.86 L348.50,193.44 L348.75,197.01 L349.00,199.81 L349.25,202.42 L349.50,205.03 L349.75,207.46 L350.00,209.18 L350.25,210.90 L350.50,212.62 L350.75,214.34 L351.00,216.06 L351.25,217.67 L351.50,218.89 L351.75,220.10 L352.00,221.32 L352.25,222.41 L352.50,223.05 L352.75,223.68 L353.00,224.31 L353.25,224.84 L353.50,224.94 L353.75,225.02 L354.00,224.97 L354.25,224.93 L354.50,224.88 L354.75,224.84 L355.00,224.79 L355.25,224.75 L355.50,224.71 L355.75,224.68 L356.00,224.64 L356.25,224.61 L356.50,224.58 L356.75,224.56 L357.00,224.54 L357.25,224.52 L357.50,224.51 L357.75,224.50 L358.00,224.50 L358.25,224.50 L358.50,224.51 L358.75,224.52 L359.00,224.54 L359.25,224.56 L359.50,224.58 L359.75,224.61 L360.00,224.64 L360.25,224.67 L360.50,224.71 L360.75,224.75 L361.00,224.79 L361.25,224.84 L361.50,224.88 L361.75,224.92 L362.00,224.97 L362.25,225.01 L362.50,225.06 L362.75,225.10 L363.00,225.14 L363.25,225.18 L363.50,225.22 L363.75,225.26 L364.00,225.29 L364.25,225.31 L364.50,225.32 L364.75,225.32 L365.00,225.30 L365.25,225.26 L365.50,225.19 L365.75,225.09 L366.00,224.96 L366.25,224.80 L366.50,224.63 L366.75,224.45 L367.00,224.29 L367.25,224.16 L367.50,224.09 L367.75,224.07 L368.00,224.12 L368.25,224.22 L368.50,224.36 L368.75,224.54 L369.00,224.72 L369.25,224.89 L369.50,225.04 L369.75,225.17 L370.00,225.26 L370.25,225.33 L370.50,225.37 L370.75,225.39 L371.00,225.39 L371.25,225.38 L371.50,225.36 L371.75,225.34 L372.00,225.31 L372.25,225.27 L372.50,225.24 L372.75,225.20 L373.00,225.16 L373.25,225.11 L373.50,225.07 L373.75,225.02 L374.00,224.97 L374.25,224.91 L374.50,224.86 L374.75,224.80 L375.00,224.74 L375.25,224.68 L375.50,224.62 L375.75,224.55 L376.00,224.49 L376.25,224.43 L376.50,224.36 L376.75,224.30 L377.00,224.24 L377.25,224.18 L377.50,224.12 L377.75,224.06 L378.00,224.01 L378.25,223.95 L378.50,223.89 L378.75,223.83 L379.00,223.77 L379.25,223.69 L379.50,223.60 L379.75,223.50 L380.00,223.37 L380.25,223.21 L380.50,223.02 L380.75,222.79 L381.00,222.52 L381.25,222.20 L381.50,221.85 L381.75,221.47 L382.00,221.06 L382.25,220.64 L382.50,220.23 L382.75,219.84 L383.00,219.50 L383.25,219.22 L383.50,219.02 L383.75,218.92 L384.00,218.91 L384.25,219.01 L384.50,219.22 L384.75,219.51 L385.00,219.88 L385.25,220.32 L385.50,220.79 L385.75,221.29 L386.00,221.79 L386.25,222.27 L386.50,222.73 L386.75,223.15 L387.00,223.53 L387.25,223.85 L387.50,224.14 L387.75,224.38 L388.00,224.58 L388.25,224.74 L388.50,224.88 L388.75,224.99 L389.00,225.09 L389.25,225.17 L389.50,225.24 L389.75,225.31 L390.00,225.37 L390.25,225.44 L390.50,225.50 L390.75,225.56 L391.00,225.63 L391.25,225.70 L391.50,225.77 L391.75,225.84 L392.00,225.92 L392.25,226.00 L392.50,226.08 L392.75,226.17 L393.00,226.26 L393.25,226.35 L393.50,226.44 L393.75,226.54 L394.00,226.65 L394.25,226.75 L394.50,226.86 L394.75,226.97 L395.00,227.08 L395.25,227.19 L395.50,227.31 L395.75,227.42 L396.00,227.54 L396.25,227.65 L396.50,227.77 L396.75,227.88 L397.00,227.99 L397.25,228.10 L397.50,228.21 L397.75,228.32 L398.00,228.42 L398.25,228.52 L398.50,228.62 L398.75,228.71 L399.00,228.80 L399.25,228.89 L399.50,228.97 L399.75,229.05 L400.00,229.12 L400.25,229.19 L400.50,229.25 L400.75,229.31 L401.00,229.37 L401.25,229.42 L401.50,229.47 L401.75,229.51 L402.00,229.55 L402.25,229.59 L402.50,229.63 L402.75,229.66 L403.00,229.68 L403.25,229.71 L403.50,229.73 L403.75,229.75 L404.00,229.77 L404.25,229.79 L404.50,229.80 L404.75,229.81 L405.00,229.82 L405.25,229.83 L405.50,229.84 L405.75,229.85 L406.00,229.86 L406.25,229.86 L406.50,229.87 L406.75,229.87 L407.00,229.88 L407.25,229.88 L407.50,229.88 L407.75,229.88 L408.00,229.89 L408.25,229.89 L408.50,229.89 L408.75,229.89 L409.00,229.89 L409.25,229.89 L409.50,229.89 L409.75,229.90 L410.00,229.90 L410.25,229.90 L410.50,229.90 L410.75,229.90 L411.00,229.90 L411.25,229.90 L411.50,229.90 L411.75,229.90 L412.00,229.90 L412.25,229.90 L412.50,229.90 L412.75,229.90 L413.00,229.90 L413.25,229.90 L413.50,229.90 L413.75,229.90 L414.00,229.90 L414.25,229.90 L414.50,229.90 L414.75,229.90 L415.00,229.90 L415.25,229.90 L415.50,229.90 L415.75,229.90 L416.00,229.90 L416.25,229.90 L416.50,229.90 L416.75,229.90 L417.00,229.90 L417.25,229.90 L417.50,229.90 L417.75,229.90 L418.00,229.90 L418.25,229.90 L418.50,229.90 L418.75,229.90 L419.00,229.90 L419.25,229.90 L419.50,229.90 L419.75,229.90 L420.00,229.90 L420.25,229.90 L420.50,229.90 L420.75,229.90 L421.00,229.90 L421.25,229.90 L421.50,229.90 L421.75,229.90 L422.00,229.90 L422.25,229.90 L422.50,229.90 L422.75,229.90 L423.00,229.90 L423.25,229.90 L423.50,229.90 L423.75,229.90 L424.00,229.90 L424.25,229.90 L424.50,229.90 L424.75,229.90 L425.00,229.90 L425.25,229.90 L425.50,229.90 L425.75,229.90 L426.00,229.90 L426.25,229.90 L426.50,229.90 L426.75,229.90 L427.00,229.90 L427.25,229.90 L427.50,229.90 L427.75,229.90 L428.00,229.90 L428.25,229.90 L428.50,229.90 L428.75,229.90 L429.00,229.90 L429.25,229.90 L429.50,229.90 L429.75,229.90 L430.00,229.90 L430.25,229.90 L430.50,229.90 L430.75,229.90 L431.00,229.90 L431.25,229.90 L431.50,229.90 L431.75,229.90 L432.00,229.90 L432.25,229.90 L432.50,229.90 L432.75,229.90 L433.00,229.90 L433.25,229.90 L433.50,229.90 L433.75,229.90 L434.00,229.90 L434.25,229.90 L434.50,229.90 L434.75,229.90 L435.00,229.90 L435.25,229.90 L435.50,229.90 L435.75,229.90 L436.00,229.90 L436.25,229.90 L436.50,229.90 L436.75,229.90 L437.00,229.90 L437.25,229.90 L437.50,229.90 L437.75,229.90 L438.00,229.90 L438.25,229.90 L438.50,229.90 L438.75,229.90 L439.00,229.90 L439.25,229.90 L439.50,229.90 L439.75,229.90 L440.00,229.90 L440.25,229.90 L440.50,229.90 L440.75,229.90 L441.00,229.90 L441.25,229.90 L441.50,229.90 L441.75,229.90 L442.00,229.90 L442.25,229.90 L442.50,229.90 L442.75,229.90 L443.00,229.90 L443.25,229.90 L443.50,229.90 L443.75,229.90 L444.00,229.90 L444.25,229.90 L444.50,229.90 L444.75,229.90 L445.00,229.90 L445.25,229.90 L445.50,229.90 L445.75,229.90 L446.00,229.90 L446.25,229.90 L446.50,229.90 L446.75,229.90 L447.00,229.90 L447.25,229.90 L447.50,229.90 L447.75,229.90 L448.00,229.90 L448.25,229.90 L448.50,229.90 L448.75,229.90 L449.00,229.90 L449.25,229.90 L449.50,229.90 L449.75,229.90 L450.00,229.90 L450.25,229.90 L450.50,229.90 L450.75,229.90 L451.00,229.90 L451.25,229.90 L451.50,229.90 L451.75,229.90 L452.00,229.90 L452.25,229.90 L452.50,229.90 L452.75,229.90 L453.00,229.90 L453.25,229.90 L453.50,229.90 L453.75,229.90 L454.00,229.90 L454.25,229.90 L454.50,229.90 L454.75,229.90 L455.00,229.90 L455.25,229.90 L455.50,229.90 L455.75,229.90 L456.00,229.90 L456.25,229.90 L456.50,229.90 L456.75,229.90 L457.00,229.90 L457.25,229.90 L457.50,229.90 L457.75,229.90 L458.00,229.90 L458.25,229.90 L458.50,229.90 L458.75,229.90 L459.00,229.90 L459.25,229.90 L459.50,229.90 L459.75,229.90 L460.00,229.90 L460.25,229.90 L460.50,229.90 L460.75,229.90 L461.00,229.90 L461.25,229.90 L461.50,229.90 L461.75,229.90 L462.00,229.90 L462.25,229.90 L462.50,229.90 L462.75,229.90 L463.00,229.90 L463.25,229.90 L463.50,229.90 L463.75,229.90 L464.00,229.90 L464.25,229.90 L464.50,229.90 L464.75,229.90 L465.00,229.90 L465.25,229.90 L465.50,229.90 L465.75,229.90 L466.00,229.90 L466.25,229.90 L466.50,229.90 L466.75,229.90 L467.00,229.90 L467.25,229.90 L467.50,229.90 L467.75,229.90 L468.00,229.90 L468.25,229.90 L468.50,229.90 L468.75,229.90 L469.00,229.90 L469.25,229.90 L469.50,229.90 L469.75,229.90 L470.00,229.90 L470.25,229.90 L470.50,229.90 L470.75,229.90 L471.00,229.90 L471.25,229.90 L471.50,229.90 L471.75,229.90 L472.00,229.90 L472.25,229.90 L472.50,229.90 L472.75,229.90 L473.00,229.90 L473.25,229.90 L473.50,229.90 L473.75,229.90 L474.00,229.90 L474.25,229.90 L474.50,229.90 L474.75,229.90 L475.00,229.90 L475.25,229.90 L475.50,229.90 L475.75,229.90 L476.00,229.90 L476.25,229.90 L476.50,229.90 L476.75,229.90 L477.00,229.90 L477.25,229.90 L477.50,229.90 L477.75,229.90 L478.00,229.90 L478.25,229.90 L478.50,229.90 L478.75,229.90 L479.00,229.90 L479.25,229.90 L479.50,229.90 L479.75,229.90 L480.00,229.90 L480.25,229.90 L480.50,229.90 L480.75,229.90 L481.00,229.90 L481.25,229.90 L481.50,229.90 L481.75,229.90 L482.00,229.90" fill="none" stroke="#3a3a3a" stroke-width="0.9"/>
<path d="M329.8,231.3 L326.7,236.7 L332.90000000000003,236.7 Z" fill="#000"/>
<path d="M341.2,231.3 L338.09999999999997,236.7 L344.3,236.7 Z" fill="#000"/>
<path d="M383.1,231.3 L380.0,236.7 L386.20000000000005,236.7 Z" fill="#000"/>
<line x1="288.2" y1="47.5" x2="288.2" y2="235.5" stroke="#555" stroke-width="1.2"/>
<line x1="283.20" y1="230.50" x2="288.2" y2="230.50" stroke="#333" stroke-width="0.9"/>
<text x="277.00" y="230.50" transform="rotate(-90 277.00 230.50)" text-anchor="middle" dy="2.2" font-size="6.3" fill="#444" stroke="#444" stroke-width="0.12">0</text>
<line x1="286.20" y1="222.86" x2="288.2" y2="222.86" stroke="#333" stroke-width="0.9"/>
<line x1="286.20" y1="215.22" x2="288.2" y2="215.22" stroke="#333" stroke-width="0.9"/>
<line x1="286.20" y1="207.58" x2="288.2" y2="207.58" stroke="#333" stroke-width="0.9"/>
<line x1="286.20" y1="199.94" x2="288.2" y2="199.94" stroke="#333" stroke-width="0.9"/>
<line x1="283.20" y1="192.30" x2="288.2" y2="192.30" stroke="#333" stroke-width="0.9"/>
<text x="277.00" y="192.30" transform="rotate(-90 277.00 192.30)" text-anchor="middle" dy="2.2" font-size="6.3" fill="#444" stroke="#444" stroke-width="0.12">500</text>
<line x1="286.20" y1="184.66" x2="288.2" y2="184.66" stroke="#333" stroke-width="0.9"/>
<line x1="286.20" y1="177.02" x2="288.2" y2="177.02" stroke="#333" stroke-width="0.9"/>
<line x1="286.20" y1="169.38" x2="288.2" y2="169.38" stroke="#333" stroke-width="0.9"/>
<line x1="286.20" y1="161.74" x2="288.2" y2="161.74" stroke="#333" stroke-width="0.9"/>
<line x1="283.20" y1="154.10" x2="288.2" y2="154.10" stroke="#333" stroke-width="0.9"/>
<text x="277.00" y="154.10" transform="rotate(-90 277.00 154.10)" text-anchor="middle" dy="2.2" font-size="6.3" fill="#444" stroke="#444" stroke-width="0.12">1000</text>
<line x1="286.20" y1="146.46" x2="288.2" y2="146.46" stroke="#333" stroke-width="0.9"/>
<line x1="286.20" y1="138.82" x2="288.2" y2="138.82" stroke="#333" stroke-width="0.9"/>
<line x1="286.20" y1="131.18" x2="288.2" y2="131.18" stroke="#333" stroke-width="0.9"/>
<line x1="286.20" y1="123.54" x2="288.2" y2="123.54" stroke="#333" stroke-width="0.9"/>
<line x1="283.20" y1="115.90" x2="288.2" y2="115.90" stroke="#333" stroke-width="0.9"/>
<text x="277.00" y="115.90" transform="rotate(-90 277.00 115.90)" text-anchor="middle" dy="2.2" font-size="6.3" fill="#444" stroke="#444" stroke-width="0.12">1500</text>
<line x1="286.20" y1="108.26" x2="288.2" y2="108.26" stroke="#333" stroke-width="0.9"/>
<line x1="286.20" y1="100.62" x2="288.2" y2="100.62" stroke="#333" stroke-width="0.9"/>
<line x1="286.20" y1="92.98" x2="288.2" y2="92.98" stroke="#333" stroke-width="0.9"/>
<line x1="286.20" y1="85.34" x2="288.2" y2="85.34" stroke="#333" stroke-width="0.9"/>
<line x1="283.20" y1="77.70" x2="288.2" y2="77.70" stroke="#333" stroke-width="0.9"/>
<text x="277.00" y="77.70" transform="rotate(-90 277.00 77.70)" text-anchor="middle" dy="2.2" font-size="6.3" fill="#444" stroke="#444" stroke-width="0.12">2000</text>
<line x1="286.20" y1="70.06" x2="288.2" y2="70.06" stroke="#333" stroke-width="0.9"/>
<line x1="286.20" y1="62.42" x2="288.2" y2="62.42" stroke="#333" stroke-width="0.9"/>
<line x1="286.20" y1="54.78" x2="288.2" y2="54.78" stroke="#333" stroke-width="0.9"/>
<line x1="286.20" y1="47.14" x2="288.2" y2="47.14" stroke="#333" stroke-width="0.9"/>
<line x1="283.2" y1="230.5" x2="499" y2="230.5" stroke="#222" stroke-width="1.1"/>
<line x1="288.20" y1="230.5" x2="288.20" y2="234.1" stroke="#333" stroke-width="0.9"/>
<line x1="296.98" y1="230.5" x2="296.98" y2="232.7" stroke="#333" stroke-width="0.9"/>
<line x1="305.76" y1="230.5" x2="305.76" y2="232.7" stroke="#333" stroke-width="0.9"/>
<line x1="314.54" y1="230.5" x2="314.54" y2="232.7" stroke="#333" stroke-width="0.9"/>
<line x1="323.32" y1="230.5" x2="323.32" y2="232.7" stroke="#333" stroke-width="0.9"/>
<line x1="332.10" y1="230.5" x2="332.10" y2="234.1" stroke="#333" stroke-width="0.9"/>
<line x1="340.88" y1="230.5" x2="340.88" y2="232.7" stroke="#333" stroke-width="0.9"/>
<line x1="349.66" y1="230.5" x2="349.66" y2="232.7" stroke="#333" stroke-width="0.9"/>
<line x1="358.44" y1="230.5" x2="358.44" y2="232.7" stroke="#333" stroke-width="0.9"/>
<line x1="367.22" y1="230.5" x2="367.22" y2="232.7" stroke="#333" stroke-width="0.9"/>
<line x1="376.00" y1="230.5" x2="376.00" y2="234.1" stroke="#333" stroke-width="0.9"/>
<line x1="384.78" y1="230.5" x2="384.78" y2="232.7" stroke="#333" stroke-width="0.9"/>
<line x1="393.56" y1="230.5" x2="393.56" y2="232.7" stroke="#333" stroke-width="0.9"/>
<line x1="402.34" y1="230.5" x2="402.34" y2="232.7" stroke="#333" stroke-width="0.9"/>
<line x1="411.12" y1="230.5" x2="411.12" y2="232.7" stroke="#333" stroke-width="0.9"/>
<line x1="419.90" y1="230.5" x2="419.90" y2="234.1" stroke="#333" stroke-width="0.9"/>
<line x1="428.68" y1="230.5" x2="428.68" y2="232.7" stroke="#333" stroke-width="0.9"/>
<line x1="437.46" y1="230.5" x2="437.46" y2="232.7" stroke="#333" stroke-width="0.9"/>
<line x1="446.24" y1="230.5" x2="446.24" y2="232.7" stroke="#333" stroke-width="0.9"/>
<line x1="455.02" y1="230.5" x2="455.02" y2="232.7" stroke="#333" stroke-width="0.9"/>
<line x1="463.80" y1="230.5" x2="463.80" y2="234.1" stroke="#333" stroke-width="0.9"/>
<line x1="472.58" y1="230.5" x2="472.58" y2="232.7" stroke="#333" stroke-width="0.9"/>
<line x1="481.36" y1="230.5" x2="481.36" y2="232.7" stroke="#333" stroke-width="0.9"/>
<line x1="490.14" y1="230.5" x2="490.14" y2="232.7" stroke="#333" stroke-width="0.9"/>
<line x1="498.92" y1="230.5" x2="498.92" y2="232.7" stroke="#333" stroke-width="0.9"/>
<text x="288.20" y="243.8" text-anchor="middle" font-size="6.8" fill="#444" stroke="#444" stroke-width="0.12">0</text>
<text x="332.10" y="243.8" text-anchor="middle" font-size="6.8" fill="#444" stroke="#444" stroke-width="0.12">50</text>
<text x="376.00" y="243.8" text-anchor="middle" font-size="6.8" fill="#444" stroke="#444" stroke-width="0.12">100</text>
<text x="419.90" y="243.8" text-anchor="middle" font-size="6.8" fill="#444" stroke="#444" stroke-width="0.12">150</text>
<text x="463.80" y="243.8" text-anchor="middle" font-size="6.8" fill="#444" stroke="#444" stroke-width="0.12">200</text>
<path d="M100.25,446.30 L100.25,446.23 L100.50,446.20 L100.75,446.15 L101.00,446.09 L101.25,446.00 L101.50,445.89 L101.75,445.74 L102.00,445.56 L102.25,445.34 L102.50,445.08 L102.75,444.78 L103.00,444.44 L103.25,444.06 L103.50,443.66 L103.75,443.23 L104.00,442.80 L104.25,442.37 L104.50,441.94 L104.75,441.54 L105.00,441.16 L105.25,440.82 L105.50,440.52 L105.75,440.26 L106.00,440.04 L106.25,439.86 L106.50,439.71 L106.75,439.60 L107.00,439.51 L107.25,439.45 L107.50,439.40 L107.75,439.37 L108.00,439.34 L108.25,439.33 L108.50,439.32 L108.75,439.31 L109.00,439.31 L109.25,439.30 L109.50,439.30 L109.75,439.30 L110.00,439.30 L110.25,439.30 L110.50,439.30 L110.75,439.30 L111.00,439.30 L111.25,439.30 L111.50,439.30 L111.75,439.30 L112.00,439.30 L112.25,439.30 L112.50,439.30 L112.75,439.30 L113.00,439.30 L113.25,439.30 L113.50,439.30 L113.75,439.30 L114.00,439.30 L114.25,439.30 L114.50,439.30 L114.75,439.30 L115.00,439.30 L115.25,439.30 L115.50,439.30 L115.75,439.30 L116.00,439.30 L116.25,439.30 L116.50,439.30 L116.75,439.30 L117.00,439.30 L117.25,439.30 L117.50,439.30 L117.75,439.30 L118.00,439.30 L118.25,439.30 L118.50,439.30 L118.75,439.30 L119.00,439.30 L119.25,439.30 L119.50,439.30 L119.75,439.30 L120.00,439.30 L120.25,439.30 L120.50,439.30 L120.75,439.30 L121.00,439.30 L121.25,439.30 L121.50,439.30 L121.75,439.30 L122.00,439.30 L122.25,439.30 L122.50,439.30 L122.75,439.30 L123.00,439.30 L123.25,439.30 L123.50,439.30 L123.75,439.30 L124.00,439.30 L124.25,439.30 L124.50,439.30 L124.75,439.30 L125.00,439.30 L125.25,439.30 L125.50,439.30 L125.75,439.30 L126.00,439.30 L126.25,439.30 L126.50,439.30 L126.75,439.30 L127.00,439.30 L127.25,439.30 L127.50,439.30 L127.75,439.30 L128.00,439.30 L128.25,439.30 L128.50,439.30 L128.75,439.30 L129.00,439.30 L129.25,439.30 L129.50,439.30 L129.75,439.30 L130.00,439.30 L130.25,439.30 L130.50,439.30 L130.75,439.30 L131.00,439.30 L131.25,439.30 L131.50,439.30 L131.75,439.30 L132.00,439.30 L132.25,439.30 L132.50,439.31 L132.75,439.31 L133.00,439.32 L133.25,439.33 L133.50,439.34 L133.75,439.37 L134.00,439.40 L134.25,439.45 L134.50,439.51 L134.75,439.60 L135.00,439.71 L135.25,439.86 L135.50,440.04 L135.75,440.26 L136.00,440.52 L136.25,440.82 L136.50,441.16 L136.75,441.54 L137.00,441.94 L137.25,442.37 L137.50,442.80 L137.75,443.23 L138.00,443.66 L138.25,444.06 L138.50,444.44 L138.75,444.78 L139.00,445.08 L139.25,445.34 L139.50,445.56 L139.75,445.74 L140.00,445.89 L140.25,446.00 L140.50,446.09 L140.75,446.15 L141.00,446.20 L141.25,446.23 L141.25,446.30 Z" fill="url(#hatch)" stroke="none"/>
<path d="M97.00,446.30 L97.00,443.49 L97.25,441.89 L97.50,439.58 L97.75,436.36 L98.00,432.01 L98.25,426.34 L98.50,419.17 L98.75,410.42 L99.00,400.07 L99.25,388.23 L99.50,375.15 L99.75,361.17 L100.00,346.77 L100.25,332.47 L100.50,318.83 L100.75,306.39 L101.00,295.60 L101.25,286.80 L101.50,280.19 L101.75,275.79 L102.00,273.43 L102.25,272.71 L102.50,272.97 L102.75,274.61 L103.00,278.17 L103.25,283.89 L103.50,291.83 L103.75,301.85 L104.00,313.68 L104.25,326.90 L104.50,341.01 L104.75,355.43 L105.00,369.64 L105.25,383.13 L105.50,395.50 L105.75,406.47 L106.00,415.87 L106.25,423.66 L106.50,429.91 L106.75,434.77 L107.00,438.41 L107.25,441.06 L107.50,442.93 L107.75,444.19 L107.75,446.30 Z" fill="#f00000" stroke="#1a1a1a" stroke-width="0.8"/>
<path d="M132.75,446.30 L132.75,445.40 L133.00,445.20 L133.25,444.95 L133.50,444.65 L133.75,444.30 L134.00,443.89 L134.25,443.41 L134.50,442.85 L134.75,442.20 L135.00,441.46 L135.25,440.61 L135.50,439.65 L135.75,438.57 L136.00,437.35 L136.25,436.01 L136.50,434.52 L136.75,432.89 L137.00,431.11 L137.25,429.19 L137.50,427.13 L137.75,424.92 L138.00,422.59 L138.25,420.15 L138.50,417.60 L138.75,414.97 L139.00,412.28 L139.25,409.55 L139.50,406.81 L139.75,404.08 L140.00,401.41 L140.25,398.82 L140.50,396.33 L140.75,394.00 L141.00,391.84 L141.25,389.89 L141.50,388.18 L141.75,386.72 L142.00,385.56 L142.25,384.69 L142.50,384.14 L142.75,383.91 L143.00,384.00 L143.25,384.43 L143.50,385.17 L143.75,386.22 L144.00,387.56 L144.25,389.17 L144.50,391.03 L144.75,393.11 L145.00,395.38 L145.25,397.81 L145.50,400.36 L145.75,403.01 L146.00,405.71 L146.25,408.45 L146.50,411.19 L146.75,413.90 L147.00,416.56 L147.25,419.14 L147.50,421.63 L147.75,424.01 L148.00,426.26 L148.25,428.38 L148.50,430.36 L148.75,432.20 L149.00,433.89 L149.25,435.43 L149.50,436.83 L149.75,438.10 L150.00,439.23 L150.25,440.24 L150.50,441.13 L150.75,441.91 L151.00,442.60 L151.25,443.19 L151.50,443.70 L151.75,444.14 L152.00,444.52 L152.25,444.83 L152.50,445.10 L152.75,445.33 L153.00,445.51 L153.00,446.30 Z" fill="#f00000" stroke="#1a1a1a" stroke-width="0.8"/>
<path d="M100.25,446.23 L100.50,446.20 L100.75,446.15 L101.00,446.09 L101.25,446.00 L101.50,445.89 L101.75,445.74 L102.00,445.56 L102.25,445.34 L102.50,445.08 L102.75,444.78 L103.00,444.44 L103.25,444.06 L103.50,443.66 L103.75,443.23 L104.00,442.80 L104.25,442.37 L104.50,441.94 L104.75,441.54 L105.00,441.16 L105.25,440.82 L105.50,440.52 L105.75,440.26 L106.00,440.04 L106.25,439.86 L106.50,439.71 L106.75,439.60 L107.00,439.51 L107.25,439.45 L107.50,439.40 L107.75,439.37 L108.00,439.34 L108.25,439.33 L108.50,439.32 L108.75,439.31 L109.00,439.31 L109.25,439.30 L109.50,439.30 L109.75,439.30 L110.00,439.30 L110.25,439.30 L110.50,439.30 L110.75,439.30 L111.00,439.30 L111.25,439.30 L111.50,439.30 L111.75,439.30 L112.00,439.30 L112.25,439.30 L112.50,439.30 L112.75,439.30 L113.00,439.30 L113.25,439.30 L113.50,439.30 L113.75,439.30 L114.00,439.30 L114.25,439.30 L114.50,439.30 L114.75,439.30 L115.00,439.30 L115.25,439.30 L115.50,439.30 L115.75,439.30 L116.00,439.30 L116.25,439.30 L116.50,439.30 L116.75,439.30 L117.00,439.30 L117.25,439.30 L117.50,439.30 L117.75,439.30 L118.00,439.30 L118.25,439.30 L118.50,439.30 L118.75,439.30 L119.00,439.30 L119.25,439.30 L119.50,439.30 L119.75,439.30 L120.00,439.30 L120.25,439.30 L120.50,439.30 L120.75,439.30 L121.00,439.30 L121.25,439.30 L121.50,439.30 L121.75,439.30 L122.00,439.30 L122.25,439.30 L122.50,439.30 L122.75,439.30 L123.00,439.30 L123.25,439.30 L123.50,439.30 L123.75,439.30 L124.00,439.30 L124.25,439.30 L124.50,439.30 L124.75,439.30 L125.00,439.30 L125.25,439.30 L125.50,439.30 L125.75,439.30 L126.00,439.30 L126.25,439.30 L126.50,439.30 L126.75,439.30 L127.00,439.30 L127.25,439.30 L127.50,439.30 L127.75,439.30 L128.00,439.30 L128.25,439.30 L128.50,439.30 L128.75,439.30 L129.00,439.30 L129.25,439.30 L129.50,439.30 L129.75,439.30 L130.00,439.30 L130.25,439.30 L130.50,439.30 L130.75,439.30 L131.00,439.30 L131.25,439.30 L131.50,439.30 L131.75,439.30 L132.00,439.30 L132.25,439.30 L132.50,439.31 L132.75,439.31 L133.00,439.32 L133.25,439.33 L133.50,439.34 L133.75,439.37 L134.00,439.40 L134.25,439.45 L134.50,439.51 L134.75,439.60 L135.00,439.71 L135.25,439.86 L135.50,440.04 L135.75,440.26 L136.00,440.52 L136.25,440.82 L136.50,441.16 L136.75,441.54 L137.00,441.94 L137.25,442.37 L137.50,442.80 L137.75,443.23 L138.00,443.66 L138.25,444.06 L138.50,444.44 L138.75,444.78 L139.00,445.08 L139.25,445.34 L139.50,445.56 L139.75,445.74 L140.00,445.89 L140.25,446.00 L140.50,446.09 L140.75,446.15 L141.00,446.20 L141.25,446.23" fill="none" stroke="#3a1010" stroke-width="0.7" opacity="0.8"/>
<path d="M70.00,445.70 L70.25,445.70 L70.50,445.70 L70.75,445.70 L71.00,445.70 L71.25,445.70 L71.50,445.70 L71.75,445.70 L72.00,445.70 L72.25,445.70 L72.50,445.70 L72.75,445.70 L73.00,445.70 L73.25,445.70 L73.50,445.70 L73.75,445.70 L74.00,445.70 L74.25,445.70 L74.50,445.70 L74.75,445.70 L75.00,445.70 L75.25,445.70 L75.50,445.70 L75.75,445.70 L76.00,445.70 L76.25,445.70 L76.50,445.70 L76.75,445.70 L77.00,445.69 L77.25,445.69 L77.50,445.69 L77.75,445.69 L78.00,445.69 L78.25,445.68 L78.50,445.68 L78.75,445.68 L79.00,445.67 L79.25,445.67 L79.50,445.66 L79.75,445.65 L80.00,445.65 L80.25,445.64 L80.50,445.63 L80.75,445.62 L81.00,445.60 L81.25,445.59 L81.50,445.57 L81.75,445.56 L82.00,445.54 L82.25,445.52 L82.50,445.49 L82.75,445.47 L83.00,445.44 L83.25,445.41 L83.50,445.38 L83.75,445.35 L84.00,445.31 L84.25,445.27 L84.50,445.23 L84.75,445.19 L85.00,445.15 L85.25,445.11 L85.50,445.06 L85.75,445.02 L86.00,444.97 L86.25,444.93 L86.50,444.88 L86.75,444.84 L87.00,444.79 L87.25,444.75 L87.50,444.71 L87.75,444.68 L88.00,444.64 L88.25,444.61 L88.50,444.58 L88.75,444.56 L89.00,444.54 L89.25,444.52 L89.50,444.51 L89.75,444.50 L90.00,444.50 L90.25,444.50 L90.50,444.51 L90.75,444.52 L91.00,444.54 L91.25,444.56 L91.50,444.58 L91.75,444.61 L92.00,444.64 L92.25,444.68 L92.50,444.71 L92.75,444.75 L93.00,444.79 L93.25,444.84 L93.50,444.88 L93.75,444.93 L94.00,444.97 L94.25,445.02 L94.50,445.06 L94.75,445.10 L95.00,445.13 L95.25,445.14 L95.50,445.14 L95.75,445.09 L96.00,444.97 L96.25,444.75 L96.50,444.34 L96.75,443.68 L97.00,442.63 L97.25,441.06 L97.50,438.77 L97.75,435.58 L98.00,431.25 L98.25,425.59 L98.50,418.45 L98.75,409.71 L99.00,399.37 L99.25,387.54 L99.50,374.46 L99.75,360.48 L100.00,346.07 L100.25,331.76 L100.50,318.09 L100.75,305.61 L101.00,294.76 L101.25,285.88 L101.50,279.16 L101.75,274.61 L102.00,272.07 L102.25,271.14 L102.50,271.15 L102.75,272.49 L103.00,275.70 L103.25,281.05 L103.50,288.58 L103.75,298.18 L104.00,309.58 L104.25,322.37 L104.50,336.05 L104.75,350.07 L105.00,363.90 L105.25,377.05 L105.50,389.12 L105.75,399.82 L106.00,409.00 L106.25,416.62 L106.50,422.73 L106.75,427.47 L107.00,431.03 L107.25,433.61 L107.50,435.43 L107.75,436.66 L108.00,437.47 L108.25,437.98 L108.50,438.29 L108.75,438.48 L109.00,438.58 L109.25,438.64 L109.50,438.67 L109.75,438.69 L110.00,438.69 L110.25,438.70 L110.50,438.70 L110.75,438.70 L111.00,438.70 L111.25,438.70 L111.50,438.70 L111.75,438.70 L112.00,438.70 L112.25,438.70 L112.50,438.70 L112.75,438.70 L113.00,438.70 L113.25,438.70 L113.50,438.70 L113.75,438.70 L114.00,438.70 L114.25,438.70 L114.50,438.70 L114.75,438.70 L115.00,438.70 L115.25,438.70 L115.50,438.70 L115.75,438.70 L116.00,438.70 L116.25,438.70 L116.50,438.70 L116.75,438.70 L117.00,438.70 L117.25,438.70 L117.50,438.70 L117.75,438.70 L118.00,438.70 L118.25,438.70 L118.50,438.70 L118.75,438.70 L119.00,438.70 L119.25,438.70 L119.50,438.70 L119.75,438.70 L120.00,438.70 L120.25,438.70 L120.50,438.70 L120.75,438.70 L121.00,438.70 L121.25,438.70 L121.50,438.70 L121.75,438.70 L122.00,438.70 L122.25,438.70 L122.50,438.70 L122.75,438.70 L123.00,438.70 L123.25,438.70 L123.50,438.70 L123.75,438.70 L124.00,438.70 L124.25,438.70 L124.50,438.70 L124.75,438.70 L125.00,438.70 L125.25,438.70 L125.50,438.70 L125.75,438.70 L126.00,438.70 L126.25,438.70 L126.50,438.70 L126.75,438.70 L127.00,438.70 L127.25,438.70 L127.50,438.70 L127.75,438.70 L128.00,438.69 L128.25,438.69 L128.50,438.68 L128.75,438.67 L129.00,438.65 L129.25,438.62 L129.50,438.55 L129.75,438.45 L130.00,438.30 L130.25,438.08 L130.50,437.78 L130.75,437.42 L131.00,437.00 L131.25,436.58 L131.50,436.20 L131.75,435.90 L132.00,435.71 L132.25,435.64 L132.50,435.64 L132.75,435.65 L133.00,435.58 L133.25,435.34 L133.50,434.91 L133.75,434.29 L134.00,433.58 L134.25,432.90 L134.50,432.35 L134.75,431.98 L135.00,431.77 L135.25,431.62 L135.50,431.41 L135.75,431.04 L136.00,430.46 L136.25,429.66 L136.50,428.65 L136.75,427.47 L137.00,426.13 L137.25,424.65 L137.50,423.02 L137.75,421.26 L138.00,419.35 L138.25,417.31 L138.50,415.14 L138.75,412.85 L139.00,410.46 L139.25,407.99 L139.50,405.47 L139.75,402.93 L140.00,400.40 L140.25,397.92 L140.50,395.52 L140.75,393.25 L141.00,391.14 L141.25,389.22 L141.50,387.53 L141.75,386.10 L142.00,384.94 L142.25,384.08 L142.50,383.53 L142.75,383.30 L143.00,383.40 L143.25,383.83 L143.50,384.57 L143.75,385.62 L144.00,386.96 L144.25,388.57 L144.50,390.43 L144.75,392.51 L145.00,394.78 L145.25,397.21 L145.50,399.76 L145.75,402.41 L146.00,405.11 L146.25,407.85 L146.50,410.59 L146.75,413.30 L147.00,415.96 L147.25,418.54 L147.50,421.03 L147.75,423.41 L148.00,425.66 L148.25,427.78 L148.50,429.76 L148.75,431.60 L149.00,433.29 L149.25,434.83 L149.50,436.23 L149.75,437.50 L150.00,438.63 L150.25,439.64 L150.50,440.53 L150.75,441.31 L151.00,442.00 L151.25,442.59 L151.50,443.10 L151.75,443.54 L152.00,443.92 L152.25,444.23 L152.50,444.50 L152.75,444.73 L153.00,444.91 L153.25,445.06 L153.50,445.19 L153.75,445.29 L154.00,445.38 L154.25,445.45 L154.50,445.50 L154.75,445.55 L155.00,445.58 L155.25,445.61 L155.50,445.63 L155.75,445.65 L156.00,445.66 L156.25,445.67 L156.50,445.68 L156.75,445.68 L157.00,445.69 L157.25,445.69 L157.50,445.69 L157.75,445.69 L158.00,445.70 L158.25,445.70 L158.50,445.70 L158.75,445.70 L159.00,445.70 L159.25,445.70 L159.50,445.70 L159.75,445.70 L160.00,445.70 L160.25,445.70 L160.50,445.70 L160.75,445.70 L161.00,445.70 L161.25,445.70 L161.50,445.70 L161.75,445.70 L162.00,445.70 L162.25,445.70 L162.50,445.70 L162.75,445.70 L163.00,445.70 L163.25,445.70 L163.50,445.70 L163.75,445.70 L164.00,445.70 L164.25,445.70 L164.50,445.70 L164.75,445.70 L165.00,445.70 L165.25,445.70 L165.50,445.70 L165.75,445.70 L166.00,445.70 L166.25,445.70 L166.50,445.70 L166.75,445.70 L167.00,445.70 L167.25,445.70 L167.50,445.70 L167.75,445.70 L168.00,445.70 L168.25,445.70 L168.50,445.70 L168.75,445.70 L169.00,445.70 L169.25,445.70 L169.50,445.70 L169.75,445.70 L170.00,445.70 L170.25,445.70 L170.50,445.70 L170.75,445.70 L171.00,445.70 L171.25,445.70 L171.50,445.70 L171.75,445.70 L172.00,445.70 L172.25,445.70 L172.50,445.70 L172.75,445.70 L173.00,445.70 L173.25,445.70 L173.50,445.70 L173.75,445.70 L174.00,445.70 L174.25,445.70 L174.50,445.70 L174.75,445.70 L175.00,445.70 L175.25,445.70 L175.50,445.70 L175.75,445.70 L176.00,445.70 L176.25,445.70 L176.50,445.70 L176.75,445.70 L177.00,445.70 L177.25,445.70 L177.50,445.70 L177.75,445.70 L178.00,445.70 L178.25,445.70 L178.50,445.70 L178.75,445.70 L179.00,445.70 L179.25,445.70 L179.50,445.70 L179.75,445.69 L180.00,445.69 L180.25,445.69 L180.50,445.69 L180.75,445.69 L181.00,445.69 L181.25,445.69 L181.50,445.69 L181.75,445.68 L182.00,445.68 L182.25,445.68 L182.50,445.67 L182.75,445.67 L183.00,445.67 L183.25,445.66 L183.50,445.66 L183.75,445.65 L184.00,445.64 L184.25,445.64 L184.50,445.63 L184.75,445.62 L185.00,445.61 L185.25,445.60 L185.50,445.59 L185.75,445.58 L186.00,445.56 L186.25,445.55 L186.50,445.53 L186.75,445.52 L187.00,445.50 L187.25,445.48 L187.50,445.46 L187.75,445.44 L188.00,445.42 L188.25,445.40 L188.50,445.37 L188.75,445.35 L189.00,445.32 L189.25,445.29 L189.50,445.27 L189.75,445.24 L190.00,445.21 L190.25,445.18 L190.50,445.15 L190.75,445.12 L191.00,445.09 L191.25,445.05 L191.50,445.02 L191.75,444.99 L192.00,444.96 L192.25,444.93 L192.50,444.90 L192.75,444.87 L193.00,444.84 L193.25,444.82 L193.50,444.79 L193.75,444.77 L194.00,444.74 L194.25,444.72 L194.50,444.70 L194.75,444.69 L195.00,444.67 L195.25,444.66 L195.50,444.64 L195.75,444.63 L196.00,444.62 L196.25,444.62 L196.50,444.61 L196.75,444.61 L197.00,444.61 L197.25,444.61 L197.50,444.61 L197.75,444.62 L198.00,444.62 L198.25,444.62 L198.50,444.63 L198.75,444.64 L199.00,444.64 L199.25,444.65 L199.50,444.66 L199.75,444.67 L200.00,444.67 L200.25,444.68 L200.50,444.68 L200.75,444.69 L201.00,444.69 L201.25,444.69 L201.50,444.69 L201.75,444.68 L202.00,444.68 L202.25,444.67 L202.50,444.66 L202.75,444.65 L203.00,444.63 L203.25,444.62 L203.50,444.60 L203.75,444.57 L204.00,444.55 L204.25,444.52 L204.50,444.49 L204.75,444.46 L205.00,444.42 L205.25,444.38 L205.50,444.34 L205.75,444.30 L206.00,444.25 L206.25,444.20 L206.50,444.15 L206.75,444.10 L207.00,444.05 L207.25,444.00 L207.50,443.94 L207.75,443.88 L208.00,443.82 L208.25,443.77 L208.50,443.71 L208.75,443.65 L209.00,443.59 L209.25,443.53 L209.50,443.47 L209.75,443.41 L210.00,443.36 L210.25,443.30 L210.50,443.25 L210.75,443.19 L211.00,443.14 L211.25,443.09 L211.50,443.04 L211.75,443.00 L212.00,442.96 L212.25,442.92 L212.50,442.88 L212.75,442.85 L213.00,442.82 L213.25,442.79 L213.50,442.77 L213.75,442.75 L214.00,442.73 L214.25,442.72 L214.50,442.71 L214.75,442.70 L215.00,442.70 L215.25,442.70 L215.50,442.71 L215.75,442.72 L216.00,442.73 L216.25,442.75 L216.50,442.77 L216.75,442.79 L217.00,442.82 L217.25,442.85 L217.50,442.89 L217.75,442.92 L218.00,442.96 L218.25,443.01 L218.50,443.05 L218.75,443.10 L219.00,443.15 L219.25,443.20 L219.50,443.26 L219.75,443.32 L220.00,443.38 L220.25,443.44 L220.50,443.50 L220.75,443.56 L221.00,443.62 L221.25,443.69 L221.50,443.75 L221.75,443.82 L222.00,443.88 L222.25,443.95 L222.50,444.01 L222.75,444.07 L223.00,444.14 L223.25,444.20 L223.50,444.26 L223.75,444.33 L224.00,444.39 L224.25,444.45 L224.50,444.51 L224.75,444.56 L225.00,444.62 L225.25,444.67 L225.50,444.73 L225.75,444.78 L226.00,444.83 L226.25,444.88 L226.50,444.92 L226.75,444.97 L227.00,445.01 L227.25,445.05 L227.50,445.09 L227.75,445.13 L228.00,445.17 L228.25,445.20 L228.50,445.23 L228.75,445.26 L229.00,445.29 L229.25,445.32 L229.50,445.35 L229.75,445.37 L230.00,445.40 L230.25,445.42 L230.50,445.44 L230.75,445.46 L231.00,445.48 L231.25,445.50 L231.50,445.51 L231.75,445.53 L232.00,445.54 L232.25,445.56 L232.50,445.57 L232.75,445.58 L233.00,445.59 L233.25,445.60 L233.50,445.61 L233.75,445.62 L234.00,445.62 L234.25,445.63 L234.50,445.64 L234.75,445.64 L235.00,445.65 L235.25,445.65 L235.50,445.66 L235.75,445.66 L236.00,445.67 L236.25,445.67 L236.50,445.67 L236.75,445.68 L237.00,445.68 L237.25,445.68 L237.50,445.68 L237.75,445.68 L238.00,445.69 L238.25,445.69 L238.50,445.69 L238.75,445.69 L239.00,445.69 L239.25,445.69 L239.50,445.69 L239.75,445.69 L240.00,445.69" fill="none" stroke="#3a3a3a" stroke-width="0.9"/>
<path d="M102.1,447.1 L99.0,452.5 L105.19999999999999,452.5 Z" fill="#000"/>
<path d="M143,447.1 L139.9,452.5 L146.1,452.5 Z" fill="#000"/>
<path d="M219.2,447.1 L216.1,452.5 L222.29999999999998,452.5 Z" fill="#000"/>
<line x1="58.3" y1="264.6" x2="58.3" y2="451.3" stroke="#555" stroke-width="1.2"/>
<line x1="53.30" y1="446.30" x2="58.3" y2="446.30" stroke="#333" stroke-width="0.9"/>
<text x="47.10" y="446.30" transform="rotate(-90 47.10 446.30)" text-anchor="middle" dy="2.2" font-size="6.3" fill="#444" stroke="#444" stroke-width="0.12">0</text>
<line x1="56.30" y1="439.02" x2="58.3" y2="439.02" stroke="#333" stroke-width="0.9"/>
<line x1="56.30" y1="431.74" x2="58.3" y2="431.74" stroke="#333" stroke-width="0.9"/>
<line x1="56.30" y1="424.46" x2="58.3" y2="424.46" stroke="#333" stroke-width="0.9"/>
<line x1="56.30" y1="417.18" x2="58.3" y2="417.18" stroke="#333" stroke-width="0.9"/>
<line x1="53.30" y1="409.90" x2="58.3" y2="409.90" stroke="#333" stroke-width="0.9"/>
<text x="47.10" y="409.90" transform="rotate(-90 47.10 409.90)" text-anchor="middle" dy="2.2" font-size="6.3" fill="#444" stroke="#444" stroke-width="0.12">600</text>
<line x1="56.30" y1="402.62" x2="58.3" y2="402.62" stroke="#333" stroke-width="0.9"/>
<line x1="56.30" y1="395.34" x2="58.3" y2="395.34" stroke="#333" stroke-width="0.9"/>
<line x1="56.30" y1="388.06" x2="58.3" y2="388.06" stroke="#333" stroke-width="0.9"/>
<line x1="56.30" y1="380.78" x2="58.3" y2="380.78" stroke="#333" stroke-width="0.9"/>
<line x1="53.30" y1="373.50" x2="58.3" y2="373.50" stroke="#333" stroke-width="0.9"/>
<text x="47.10" y="373.50" transform="rotate(-90 47.10 373.50)" text-anchor="middle" dy="2.2" font-size="6.3" fill="#444" stroke="#444" stroke-width="0.12">1200</text>
<line x1="56.30" y1="366.22" x2="58.3" y2="366.22" stroke="#333" stroke-width="0.9"/>
<line x1="56.30" y1="358.94" x2="58.3" y2="358.94" stroke="#333" stroke-width="0.9"/>
<line x1="56.30" y1="351.66" x2="58.3" y2="351.66" stroke="#333" stroke-width="0.9"/>
<line x1="56.30" y1="344.38" x2="58.3" y2="344.38" stroke="#333" stroke-width="0.9"/>
<line x1="53.30" y1="337.10" x2="58.3" y2="337.10" stroke="#333" stroke-width="0.9"/>
<text x="47.10" y="337.10" transform="rotate(-90 47.10 337.10)" text-anchor="middle" dy="2.2" font-size="6.3" fill="#444" stroke="#444" stroke-width="0.12">1800</text>
<line x1="56.30" y1="329.82" x2="58.3" y2="329.82" stroke="#333" stroke-width="0.9"/>
<line x1="56.30" y1="322.54" x2="58.3" y2="322.54" stroke="#333" stroke-width="0.9"/>
<line x1="56.30" y1="315.26" x2="58.3" y2="315.26" stroke="#333" stroke-width="0.9"/>
<line x1="56.30" y1="307.98" x2="58.3" y2="307.98" stroke="#333" stroke-width="0.9"/>
<line x1="53.30" y1="300.70" x2="58.3" y2="300.70" stroke="#333" stroke-width="0.9"/>
<text x="47.10" y="300.70" transform="rotate(-90 47.10 300.70)" text-anchor="middle" dy="2.2" font-size="6.3" fill="#444" stroke="#444" stroke-width="0.12">2400</text>
<line x1="56.30" y1="293.42" x2="58.3" y2="293.42" stroke="#333" stroke-width="0.9"/>
<line x1="56.30" y1="286.14" x2="58.3" y2="286.14" stroke="#333" stroke-width="0.9"/>
<line x1="56.30" y1="278.86" x2="58.3" y2="278.86" stroke="#333" stroke-width="0.9"/>
<line x1="56.30" y1="271.58" x2="58.3" y2="271.58" stroke="#333" stroke-width="0.9"/>
<line x1="53.30" y1="264.30" x2="58.3" y2="264.30" stroke="#333" stroke-width="0.9"/>
<line x1="53.3" y1="446.3" x2="267.3" y2="446.3" stroke="#222" stroke-width="1.1"/>
<line x1="58.30" y1="446.3" x2="58.30" y2="449.90000000000003" stroke="#333" stroke-width="0.9"/>
<line x1="67.08" y1="446.3" x2="67.08" y2="448.5" stroke="#333" stroke-width="0.9"/>
<line x1="75.86" y1="446.3" x2="75.86" y2="448.5" stroke="#333" stroke-width="0.9"/>
<line x1="84.64" y1="446.3" x2="84.64" y2="448.5" stroke="#333" stroke-width="0.9"/>
<line x1="93.42" y1="446.3" x2="93.42" y2="448.5" stroke="#333" stroke-width="0.9"/>
<line x1="102.20" y1="446.3" x2="102.20" y2="449.90000000000003" stroke="#333" stroke-width="0.9"/>
<line x1="110.98" y1="446.3" x2="110.98" y2="448.5" stroke="#333" stroke-width="0.9"/>
<line x1="119.76" y1="446.3" x2="119.76" y2="448.5" stroke="#333" stroke-width="0.9"/>
<line x1="128.54" y1="446.3" x2="128.54" y2="448.5" stroke="#333" stroke-width="0.9"/>
<line x1="137.32" y1="446.3" x2="137.32" y2="448.5" stroke="#333" stroke-width="0.9"/>
<line x1="146.10" y1="446.3" x2="146.10" y2="449.90000000000003" stroke="#333" stroke-width="0.9"/>
<line x1="154.88" y1="446.3" x2="154.88" y2="448.5" stroke="#333" stroke-width="0.9"/>
<line x1="163.66" y1="446.3" x2="163.66" y2="448.5" stroke="#333" stroke-width="0.9"/>
<line x1="172.44" y1="446.3" x2="172.44" y2="448.5" stroke="#333" stroke-width="0.9"/>
<line x1="181.22" y1="446.3" x2="181.22" y2="448.5" stroke="#333" stroke-width="0.9"/>
<line x1="190.00" y1="446.3" x2="190.00" y2="449.90000000000003" stroke="#333" stroke-width="0.9"/>
<line x1="198.78" y1="446.3" x2="198.78" y2="448.5" stroke="#333" stroke-width="0.9"/>
<line x1="207.56" y1="446.3" x2="207.56" y2="448.5" stroke="#333" stroke-width="0.9"/>
<line x1="216.34" y1="446.3" x2="216.34" y2="448.5" stroke="#333" stroke-width="0.9"/>
<line x1="225.12" y1="446.3" x2="225.12" y2="448.5" stroke="#333" stroke-width="0.9"/>
<line x1="233.90" y1="446.3" x2="233.90" y2="449.90000000000003" stroke="#333" stroke-width="0.9"/>
<line x1="242.68" y1="446.3" x2="242.68" y2="448.5" stroke="#333" stroke-width="0.9"/>
<line x1="251.46" y1="446.3" x2="251.46" y2="448.5" stroke="#333" stroke-width="0.9"/>
<line x1="260.24" y1="446.3" x2="260.24" y2="448.5" stroke="#333" stroke-width="0.9"/>
<text x="58.30" y="459.6" text-anchor="middle" font-size="6.8" fill="#444" stroke="#444" stroke-width="0.12">0</text>
<text x="102.20" y="459.6" text-anchor="middle" font-size="6.8" fill="#444" stroke="#444" stroke-width="0.12">50</text>
<text x="146.10" y="459.6" text-anchor="middle" font-size="6.8" fill="#444" stroke="#444" stroke-width="0.12">100</text>
<text x="190.00" y="459.6" text-anchor="middle" font-size="6.8" fill="#444" stroke="#444" stroke-width="0.12">150</text>
<text x="233.90" y="459.6" text-anchor="middle" font-size="6.8" fill="#444" stroke="#444" stroke-width="0.12">200</text>
<path d="M331.00,446.50 L331.00,446.44 L331.25,446.43 L331.50,446.41 L331.75,446.39 L332.00,446.37 L332.25,446.34 L332.50,446.31 L332.75,446.27 L333.00,446.22 L333.25,446.17 L333.50,446.11 L333.75,446.05 L334.00,445.97 L334.25,445.89 L334.50,445.79 L334.75,445.69 L335.00,445.58 L335.25,445.46 L335.50,445.33 L335.75,445.19 L336.00,445.04 L336.25,444.88 L336.50,444.71 L336.75,444.54 L337.00,444.36 L337.25,444.17 L337.50,443.98 L337.75,443.79 L338.00,443.60 L338.25,443.41 L338.50,443.22 L338.75,443.03 L339.00,442.84 L339.25,442.66 L339.50,442.49 L339.75,442.32 L340.00,442.16 L340.25,442.01 L340.50,441.87 L340.75,441.74 L341.00,441.62 L341.25,441.51 L341.50,441.41 L341.75,441.31 L342.00,441.23 L342.25,441.15 L342.50,441.09 L342.75,441.03 L343.00,440.98 L343.25,440.93 L343.50,440.89 L343.75,440.86 L344.00,440.83 L344.25,440.81 L344.50,440.79 L344.75,440.77 L345.00,440.76 L345.25,440.75 L345.50,440.74 L345.75,440.73 L346.00,440.72 L346.25,440.72 L346.50,440.71 L346.75,440.71 L347.00,440.71 L347.25,440.71 L347.50,440.70 L347.75,440.70 L348.00,440.70 L348.25,440.70 L348.50,440.70 L348.75,440.70 L349.00,440.70 L349.25,440.70 L349.50,440.70 L349.75,440.70 L350.00,440.70 L350.25,440.70 L350.50,440.70 L350.75,440.70 L351.00,440.70 L351.25,440.70 L351.50,440.70 L351.75,440.70 L352.00,440.70 L352.25,440.70 L352.50,440.70 L352.75,440.70 L353.00,440.70 L353.25,440.70 L353.50,440.70 L353.75,440.70 L354.00,440.70 L354.25,440.70 L354.50,440.70 L354.75,440.70 L355.00,440.70 L355.25,440.70 L355.50,440.70 L355.75,440.70 L356.00,440.70 L356.25,440.70 L356.50,440.70 L356.75,440.70 L357.00,440.70 L357.25,440.70 L357.50,440.70 L357.75,440.70 L358.00,440.70 L358.25,440.70 L358.50,440.70 L358.75,440.70 L359.00,440.70 L359.25,440.70 L359.50,440.70 L359.75,440.70 L360.00,440.70 L360.25,440.70 L360.50,440.70 L360.75,440.70 L361.00,440.70 L361.25,440.70 L361.50,440.70 L361.75,440.70 L362.00,440.70 L362.25,440.70 L362.50,440.70 L362.75,440.70 L363.00,440.70 L363.25,440.70 L363.50,440.70 L363.75,440.70 L364.00,440.70 L364.25,440.70 L364.50,440.70 L364.75,440.71 L365.00,440.71 L365.25,440.71 L365.50,440.71 L365.75,440.72 L366.00,440.72 L366.25,440.73 L366.50,440.74 L366.75,440.75 L367.00,440.76 L367.25,440.77 L367.50,440.79 L367.75,440.81 L368.00,440.83 L368.25,440.86 L368.50,440.89 L368.75,440.93 L369.00,440.98 L369.25,441.03 L369.50,441.09 L369.75,441.15 L370.00,441.23 L370.25,441.31 L370.50,441.41 L370.75,441.51 L371.00,441.62 L371.25,441.74 L371.50,441.87 L371.75,442.01 L372.00,442.16 L372.25,442.32 L372.50,442.49 L372.75,442.66 L373.00,442.84 L373.25,443.03 L373.50,443.22 L373.75,443.41 L374.00,443.60 L374.25,443.79 L374.50,443.98 L374.75,444.17 L375.00,444.36 L375.25,444.54 L375.50,444.71 L375.75,444.88 L376.00,445.04 L376.25,445.19 L376.50,445.33 L376.75,445.46 L377.00,445.58 L377.25,445.69 L377.50,445.79 L377.75,445.89 L378.00,445.97 L378.25,446.05 L378.50,446.11 L378.75,446.17 L379.00,446.22 L379.25,446.27 L379.50,446.31 L379.75,446.34 L380.00,446.37 L380.25,446.39 L380.50,446.41 L380.75,446.43 L381.00,446.44 L381.00,446.50 Z" fill="url(#hatch)" stroke="none"/>
<path d="M324.75,446.50 L324.75,444.06 L325.00,442.62 L325.25,441.02 L325.50,439.42 L325.75,437.82 L326.00,434.90 L326.25,431.65 L326.50,428.40 L326.75,425.15 L327.00,420.73 L327.25,416.02 L327.50,411.31 L327.75,406.60 L328.00,401.88 L328.25,395.50 L328.50,388.00 L328.75,380.50 L329.00,373.65 L329.25,367.78 L329.50,361.90 L329.75,356.03 L330.00,350.00 L330.25,343.75 L330.50,337.50 L330.75,331.25 L331.00,325.57 L331.25,320.75 L331.50,315.93 L331.75,311.11 L332.00,306.29 L332.25,301.46 L332.50,297.50 L332.75,293.75 L333.00,290.00 L333.25,286.25 L333.50,282.50 L333.75,281.84 L334.00,281.19 L334.25,280.53 L334.50,280.92 L334.75,281.58 L335.00,282.24 L335.25,284.75 L335.50,288.50 L335.75,292.25 L336.00,296.00 L336.25,299.75 L336.50,304.36 L336.75,309.18 L337.00,314.00 L337.25,318.82 L337.50,323.64 L337.75,328.75 L338.00,335.00 L338.25,341.25 L338.50,347.50 L338.75,353.67 L339.00,359.55 L339.25,365.42 L339.50,371.30 L339.75,377.50 L340.00,385.00 L340.25,392.50 L340.50,400.00 L340.75,404.71 L341.00,409.42 L341.25,414.13 L341.50,418.85 L341.75,423.56 L342.00,427.10 L342.25,430.35 L342.50,433.60 L342.75,436.85 L343.00,438.78 L343.25,440.38 L343.50,441.98 L343.75,443.58 L343.75,446.50 Z" fill="#f00000" stroke="#1a1a1a" stroke-width="0.8"/>
<path d="M362.25,446.50 L362.25,446.18 L362.50,446.15 L362.75,446.11 L363.00,446.06 L363.25,446.01 L363.50,445.96 L363.75,445.90 L364.00,445.83 L364.25,445.76 L364.50,445.69 L364.75,445.61 L365.00,445.52 L365.25,445.43 L365.50,445.32 L365.75,445.22 L366.00,445.10 L366.25,444.98 L366.50,444.84 L366.75,444.71 L367.00,444.56 L367.25,444.40 L367.50,444.24 L367.75,444.07 L368.00,443.89 L368.25,443.70 L368.50,443.50 L368.75,443.30 L369.00,443.08 L369.25,442.86 L369.50,442.64 L369.75,442.40 L370.00,442.17 L370.25,441.92 L370.50,441.67 L370.75,441.42 L371.00,441.16 L371.25,440.90 L371.50,440.64 L371.75,440.38 L372.00,440.12 L372.25,439.86 L372.50,439.60 L372.75,439.35 L373.00,439.10 L373.25,438.85 L373.50,438.62 L373.75,438.39 L374.00,438.16 L374.25,437.95 L374.50,437.75 L374.75,437.56 L375.00,437.39 L375.25,437.22 L375.50,437.08 L375.75,436.94 L376.00,436.83 L376.25,436.73 L376.50,436.65 L376.75,436.58 L377.00,436.54 L377.25,436.51 L377.50,436.50 L377.75,436.51 L378.00,436.54 L378.25,436.58 L378.50,436.65 L378.75,436.73 L379.00,436.83 L379.25,436.94 L379.50,437.08 L379.75,437.22 L380.00,437.39 L380.25,437.56 L380.50,437.75 L380.75,437.95 L381.00,438.16 L381.25,438.39 L381.50,438.62 L381.75,438.85 L382.00,439.10 L382.25,439.35 L382.50,439.60 L382.75,439.86 L383.00,440.12 L383.25,440.38 L383.50,440.64 L383.75,440.90 L384.00,441.16 L384.25,441.42 L384.50,441.67 L384.75,441.92 L385.00,442.17 L385.25,442.40 L385.50,442.64 L385.75,442.86 L386.00,443.08 L386.25,443.30 L386.50,443.50 L386.75,443.70 L387.00,443.89 L387.25,444.07 L387.50,444.24 L387.75,444.40 L388.00,444.56 L388.25,444.71 L388.50,444.84 L388.75,444.98 L389.00,445.10 L389.25,445.22 L389.50,445.32 L389.75,445.43 L390.00,445.52 L390.25,445.61 L390.50,445.69 L390.75,445.76 L391.00,445.83 L391.25,445.90 L391.50,445.96 L391.75,446.01 L392.00,446.06 L392.25,446.11 L392.50,446.15 L392.75,446.18 L392.75,446.50 Z" fill="#f00000" stroke="#1a1a1a" stroke-width="0.8"/>
<path d="M331.00,446.44 L331.25,446.43 L331.50,446.41 L331.75,446.39 L332.00,446.37 L332.25,446.34 L332.50,446.31 L332.75,446.27 L333.00,446.22 L333.25,446.17 L333.50,446.11 L333.75,446.05 L334.00,445.97 L334.25,445.89 L334.50,445.79 L334.75,445.69 L335.00,445.58 L335.25,445.46 L335.50,445.33 L335.75,445.19 L336.00,445.04 L336.25,444.88 L336.50,444.71 L336.75,444.54 L337.00,444.36 L337.25,444.17 L337.50,443.98 L337.75,443.79 L338.00,443.60 L338.25,443.41 L338.50,443.22 L338.75,443.03 L339.00,442.84 L339.25,442.66 L339.50,442.49 L339.75,442.32 L340.00,442.16 L340.25,442.01 L340.50,441.87 L340.75,441.74 L341.00,441.62 L341.25,441.51 L341.50,441.41 L341.75,441.31 L342.00,441.23 L342.25,441.15 L342.50,441.09 L342.75,441.03 L343.00,440.98 L343.25,440.93 L343.50,440.89 L343.75,440.86 L344.00,440.83 L344.25,440.81 L344.50,440.79 L344.75,440.77 L345.00,440.76 L345.25,440.75 L345.50,440.74 L345.75,440.73 L346.00,440.72 L346.25,440.72 L346.50,440.71 L346.75,440.71 L347.00,440.71 L347.25,440.71 L347.50,440.70 L347.75,440.70 L348.00,440.70 L348.25,440.70 L348.50,440.70 L348.75,440.70 L349.00,440.70 L349.25,440.70 L349.50,440.70 L349.75,440.70 L350.00,440.70 L350.25,440.70 L350.50,440.70 L350.75,440.70 L351.00,440.70 L351.25,440.70 L351.50,440.70 L351.75,440.70 L352.00,440.70 L352.25,440.70 L352.50,440.70 L352.75,440.70 L353.00,440.70 L353.25,440.70 L353.50,440.70 L353.75,440.70 L354.00,440.70 L354.25,440.70 L354.50,440.70 L354.75,440.70 L355.00,440.70 L355.25,440.70 L355.50,440.70 L355.75,440.70 L356.00,440.70 L356.25,440.70 L356.50,440.70 L356.75,440.70 L357.00,440.70 L357.25,440.70 L357.50,440.70 L357.75,440.70 L358.00,440.70 L358.25,440.70 L358.50,440.70 L358.75,440.70 L359.00,440.70 L359.25,440.70 L359.50,440.70 L359.75,440.70 L360.00,440.70 L360.25,440.70 L360.50,440.70 L360.75,440.70 L361.00,440.70 L361.25,440.70 L361.50,440.70 L361.75,440.70 L362.00,440.70 L362.25,440.70 L362.50,440.70 L362.75,440.70 L363.00,440.70 L363.25,440.70 L363.50,440.70 L363.75,440.70 L364.00,440.70 L364.25,440.70 L364.50,440.70 L364.75,440.71 L365.00,440.71 L365.25,440.71 L365.50,440.71 L365.75,440.72 L366.00,440.72 L366.25,440.73 L366.50,440.74 L366.75,440.75 L367.00,440.76 L367.25,440.77 L367.50,440.79 L367.75,440.81 L368.00,440.83 L368.25,440.86 L368.50,440.89 L368.75,440.93 L369.00,440.98 L369.25,441.03 L369.50,441.09 L369.75,441.15 L370.00,441.23 L370.25,441.31 L370.50,441.41 L370.75,441.51 L371.00,441.62 L371.25,441.74 L371.50,441.87 L371.75,442.01 L372.00,442.16 L372.25,442.32 L372.50,442.49 L372.75,442.66 L373.00,442.84 L373.25,443.03 L373.50,443.22 L373.75,443.41 L374.00,443.60 L374.25,443.79 L374.50,443.98 L374.75,444.17 L375.00,444.36 L375.25,444.54 L375.50,444.71 L375.75,444.88 L376.00,445.04 L376.25,445.19 L376.50,445.33 L376.75,445.46 L377.00,445.58 L377.25,445.69 L377.50,445.79 L377.75,445.89 L378.00,445.97 L378.25,446.05 L378.50,446.11 L378.75,446.17 L379.00,446.22 L379.25,446.27 L379.50,446.31 L379.75,446.34 L380.00,446.37 L380.25,446.39 L380.50,446.41 L380.75,446.43 L381.00,446.44" fill="none" stroke="#3a1010" stroke-width="0.7" opacity="0.8"/>
<path d="M298.00,445.90 L298.25,445.90 L298.50,445.90 L298.75,445.90 L299.00,445.89 L299.25,445.89 L299.50,445.89 L299.75,445.89 L300.00,445.89 L300.25,445.89 L300.50,445.88 L300.75,445.88 L301.00,445.88 L301.25,445.87 L301.50,445.87 L301.75,445.86 L302.00,445.86 L302.25,445.85 L302.50,445.84 L302.75,445.83 L303.00,445.82 L303.25,445.81 L303.50,445.80 L303.75,445.78 L304.00,445.76 L304.25,445.75 L304.50,445.73 L304.75,445.71 L305.00,445.68 L305.25,445.66 L305.50,445.63 L305.75,445.60 L306.00,445.58 L306.25,445.54 L306.50,445.51 L306.75,445.48 L307.00,445.44 L307.25,445.41 L307.50,445.37 L307.75,445.33 L308.00,445.29 L308.25,445.26 L308.50,445.22 L308.75,445.18 L309.00,445.15 L309.25,445.11 L309.50,445.08 L309.75,445.05 L310.00,445.02 L310.25,444.99 L310.50,444.97 L310.75,444.95 L311.00,444.93 L311.25,444.92 L311.50,444.91 L311.75,444.90 L312.00,444.90 L312.25,444.90 L312.50,444.90 L312.75,444.90 L313.00,444.91 L313.25,444.92 L313.50,444.93 L313.75,444.95 L314.00,444.96 L314.25,444.97 L314.50,444.98 L314.75,444.98 L315.00,444.98 L315.25,444.97 L315.50,444.95 L315.75,444.92 L316.00,444.89 L316.25,444.84 L316.50,444.78 L316.75,444.70 L317.00,444.61 L317.25,444.50 L317.50,444.39 L317.75,444.26 L318.00,444.12 L318.25,443.97 L318.50,443.81 L318.75,443.66 L319.00,443.51 L319.25,443.36 L319.50,443.22 L319.75,443.10 L320.00,443.00 L320.25,442.91 L320.50,442.85 L320.75,442.82 L321.00,442.82 L321.25,442.85 L321.50,442.90 L321.75,442.98 L322.00,443.09 L322.25,443.22 L322.50,443.36 L322.75,443.52 L323.00,443.70 L323.25,443.88 L323.50,444.06 L323.75,444.25 L324.00,444.43 L324.25,443.79 L324.50,443.14 L324.75,442.48 L325.00,441.18 L325.25,439.71 L325.50,438.22 L325.75,436.72 L326.00,433.89 L326.25,430.72 L326.50,427.53 L326.75,424.34 L327.00,419.96 L327.25,415.29 L327.50,410.60 L327.75,405.92 L328.00,401.22 L328.25,394.85 L328.50,387.36 L328.75,379.87 L329.00,373.02 L329.25,367.15 L329.50,361.27 L329.75,355.37 L330.00,349.30 L330.25,342.94 L330.50,336.47 L330.75,329.79 L331.00,323.35 L331.25,317.28 L331.50,310.63 L331.75,303.35 L332.00,295.57 L332.25,287.63 L332.50,280.85 L332.75,275.12 L333.00,270.62 L333.25,267.52 L333.50,265.66 L333.75,267.72 L334.00,270.08 L334.25,272.27 L334.50,275.01 L334.75,277.38 L335.00,279.15 L335.25,282.30 L335.50,286.34 L335.75,290.16 L336.00,293.86 L336.25,297.50 L336.50,301.96 L336.75,306.61 L337.00,311.25 L337.25,315.89 L337.50,320.52 L337.75,325.43 L338.00,331.48 L338.25,337.53 L338.50,343.57 L338.75,349.54 L339.00,355.20 L339.25,360.87 L339.50,366.53 L339.75,372.51 L340.00,379.79 L340.25,387.07 L340.50,394.34 L340.75,398.82 L341.00,403.29 L341.25,407.77 L341.50,412.24 L341.75,416.71 L342.00,420.02 L342.25,423.04 L342.50,426.08 L342.75,429.13 L343.00,430.89 L343.25,432.35 L343.50,433.83 L343.75,435.36 L344.00,436.28 L344.25,437.09 L344.50,437.92 L344.75,438.31 L345.00,438.39 L345.25,438.50 L345.50,438.63 L345.75,438.76 L346.00,438.91 L346.25,439.06 L346.50,439.20 L346.75,439.33 L347.00,439.46 L347.25,439.57 L347.50,439.67 L347.75,439.76 L348.00,439.83 L348.25,439.89 L348.50,439.94 L348.75,439.98 L349.00,440.01 L349.25,440.04 L349.50,440.05 L349.75,440.07 L350.00,440.08 L350.25,440.08 L350.50,440.09 L350.75,440.09 L351.00,440.10 L351.25,440.10 L351.50,440.10 L351.75,440.10 L352.00,440.10 L352.25,440.10 L352.50,440.10 L352.75,440.10 L353.00,440.10 L353.25,440.10 L353.50,440.10 L353.75,440.10 L354.00,440.10 L354.25,440.10 L354.50,440.10 L354.75,440.10 L355.00,440.09 L355.25,440.09 L355.50,440.09 L355.75,440.09 L356.00,440.09 L356.25,440.09 L356.50,440.09 L356.75,440.08 L357.00,440.08 L357.25,440.08 L357.50,440.07 L357.75,440.07 L358.00,440.06 L358.25,440.06 L358.50,440.05 L358.75,440.05 L359.00,440.04 L359.25,440.03 L359.50,440.02 L359.75,440.01 L360.00,439.99 L360.25,439.98 L360.50,439.96 L360.75,439.95 L361.00,439.93 L361.25,439.90 L361.50,439.88 L361.75,439.85 L362.00,439.82 L362.25,439.78 L362.50,439.75 L362.75,439.71 L363.00,439.66 L363.25,439.61 L363.50,439.56 L363.75,439.50 L364.00,439.44 L364.25,439.37 L364.50,439.29 L364.75,439.21 L365.00,439.13 L365.25,439.04 L365.50,438.94 L365.75,438.83 L366.00,438.72 L366.25,438.60 L366.50,438.48 L366.75,438.35 L367.00,438.21 L367.25,438.07 L367.50,437.93 L367.75,437.77 L368.00,437.62 L368.25,437.45 L368.50,437.29 L368.75,437.12 L369.00,436.95 L369.25,436.78 L369.50,436.61 L369.75,436.43 L370.00,436.26 L370.25,436.09 L370.50,435.91 L370.75,435.74 L371.00,435.56 L371.25,435.38 L371.50,435.20 L371.75,435.02 L372.00,434.83 L372.25,434.63 L372.50,434.43 L372.75,434.21 L373.00,433.99 L373.25,433.76 L373.50,433.52 L373.75,433.27 L374.00,433.02 L374.25,432.76 L374.50,432.51 L374.75,432.27 L375.00,432.05 L375.25,431.85 L375.50,431.67 L375.75,431.53 L376.00,431.44 L376.25,431.39 L376.50,431.39 L376.75,431.44 L377.00,431.55 L377.25,431.71 L377.50,431.92 L377.75,432.17 L378.00,432.47 L378.25,432.80 L378.50,433.16 L378.75,433.53 L379.00,433.93 L379.25,434.32 L379.50,434.73 L379.75,435.13 L380.00,435.52 L380.25,435.90 L380.50,436.28 L380.75,436.64 L381.00,436.99 L381.25,437.33 L381.50,437.66 L381.75,437.98 L382.00,438.28 L382.25,438.59 L382.50,438.88 L382.75,439.17 L383.00,439.46 L383.25,439.73 L383.50,440.01 L383.75,440.28 L384.00,440.55 L384.25,440.81 L384.50,441.06 L384.75,441.32 L385.00,441.56 L385.25,441.80 L385.50,442.04 L385.75,442.26 L386.00,442.48 L386.25,442.69 L386.50,442.90 L386.75,443.10 L387.00,443.29 L387.25,443.47 L387.50,443.64 L387.75,443.80 L388.00,443.96 L388.25,444.11 L388.50,444.24 L388.75,444.38 L389.00,444.50 L389.25,444.62 L389.50,444.72 L389.75,444.83 L390.00,444.92 L390.25,445.01 L390.50,445.09 L390.75,445.16 L391.00,445.23 L391.25,445.30 L391.50,445.36 L391.75,445.41 L392.00,445.46 L392.25,445.51 L392.50,445.55 L392.75,445.58 L393.00,445.62 L393.25,445.65 L393.50,445.68 L393.75,445.70 L394.00,445.73 L394.25,445.75 L394.50,445.76 L394.75,445.78 L395.00,445.79 L395.25,445.81 L395.50,445.82 L395.75,445.83 L396.00,445.84 L396.25,445.85 L396.50,445.85 L396.75,445.86 L397.00,445.86 L397.25,445.87 L397.50,445.87 L397.75,445.88 L398.00,445.88 L398.25,445.88 L398.50,445.89 L398.75,445.89 L399.00,445.89 L399.25,445.89 L399.50,445.89 L399.75,445.89 L400.00,445.89 L400.25,445.90 L400.50,445.90 L400.75,445.90 L401.00,445.90 L401.25,445.90 L401.50,445.90 L401.75,445.90 L402.00,445.90 L402.25,445.90 L402.50,445.90 L402.75,445.90 L403.00,445.90 L403.25,445.90 L403.50,445.90 L403.75,445.90 L404.00,445.90 L404.25,445.90 L404.50,445.90 L404.75,445.90 L405.00,445.90 L405.25,445.90 L405.50,445.90 L405.75,445.90 L406.00,445.90 L406.25,445.90 L406.50,445.90 L406.75,445.90 L407.00,445.90 L407.25,445.90 L407.50,445.90 L407.75,445.90 L408.00,445.90 L408.25,445.90 L408.50,445.90 L408.75,445.90 L409.00,445.90 L409.25,445.90 L409.50,445.90 L409.75,445.90 L410.00,445.90 L410.25,445.90 L410.50,445.90 L410.75,445.90 L411.00,445.90 L411.25,445.90 L411.50,445.90 L411.75,445.90 L412.00,445.90 L412.25,445.90 L412.50,445.90 L412.75,445.90 L413.00,445.90 L413.25,445.90 L413.50,445.90 L413.75,445.90 L414.00,445.90 L414.25,445.90 L414.50,445.90 L414.75,445.90 L415.00,445.90 L415.25,445.90 L415.50,445.90 L415.75,445.90 L416.00,445.90 L416.25,445.90 L416.50,445.90 L416.75,445.90 L417.00,445.90 L417.25,445.90 L417.50,445.90 L417.75,445.90 L418.00,445.90 L418.25,445.90 L418.50,445.90 L418.75,445.90 L419.00,445.90 L419.25,445.90 L419.50,445.90 L419.75,445.90 L420.00,445.90 L420.25,445.90 L420.50,445.90 L420.75,445.90 L421.00,445.90 L421.25,445.90 L421.50,445.90 L421.75,445.90 L422.00,445.90 L422.25,445.90 L422.50,445.90 L422.75,445.90 L423.00,445.90 L423.25,445.90 L423.50,445.90 L423.75,445.90 L424.00,445.90 L424.25,445.90 L424.50,445.90 L424.75,445.90 L425.00,445.90 L425.25,445.90 L425.50,445.90 L425.75,445.90 L426.00,445.90 L426.25,445.90 L426.50,445.90 L426.75,445.90 L427.00,445.90 L427.25,445.90 L427.50,445.90 L427.75,445.90 L428.00,445.90 L428.25,445.90 L428.50,445.90 L428.75,445.90 L429.00,445.90 L429.25,445.90 L429.50,445.90 L429.75,445.90 L430.00,445.90 L430.25,445.90 L430.50,445.90 L430.75,445.90 L431.00,445.90 L431.25,445.90 L431.50,445.90 L431.75,445.90 L432.00,445.90 L432.25,445.90 L432.50,445.90 L432.75,445.90 L433.00,445.90 L433.25,445.90 L433.50,445.90 L433.75,445.90 L434.00,445.90 L434.25,445.90 L434.50,445.90 L434.75,445.90 L435.00,445.90 L435.25,445.90 L435.50,445.90 L435.75,445.90 L436.00,445.90 L436.25,445.90 L436.50,445.90 L436.75,445.90 L437.00,445.90 L437.25,445.90 L437.50,445.90 L437.75,445.90 L438.00,445.90 L438.25,445.90 L438.50,445.90 L438.75,445.90 L439.00,445.90 L439.25,445.90 L439.50,445.90 L439.75,445.90 L440.00,445.90 L440.25,445.90 L440.50,445.90 L440.75,445.90 L441.00,445.90 L441.25,445.90 L441.50,445.90 L441.75,445.90 L442.00,445.90 L442.25,445.90 L442.50,445.90 L442.75,445.90 L443.00,445.90 L443.25,445.90 L443.50,445.90 L443.75,445.90 L444.00,445.90 L444.25,445.90 L444.50,445.90 L444.75,445.90 L445.00,445.90 L445.25,445.90 L445.50,445.90 L445.75,445.90 L446.00,445.90 L446.25,445.90 L446.50,445.90 L446.75,445.90 L447.00,445.90 L447.25,445.90 L447.50,445.90 L447.75,445.90 L448.00,445.90 L448.25,445.90 L448.50,445.90 L448.75,445.90 L449.00,445.90 L449.25,445.90 L449.50,445.90 L449.75,445.90 L450.00,445.90 L450.25,445.90 L450.50,445.90 L450.75,445.90 L451.00,445.90 L451.25,445.90 L451.50,445.90 L451.75,445.90 L452.00,445.90 L452.25,445.90 L452.50,445.90 L452.75,445.90 L453.00,445.90 L453.25,445.90 L453.50,445.90 L453.75,445.90 L454.00,445.90 L454.25,445.90 L454.50,445.90 L454.75,445.90 L455.00,445.90 L455.25,445.90 L455.50,445.90 L455.75,445.90 L456.00,445.90 L456.25,445.90 L456.50,445.90 L456.75,445.90 L457.00,445.90 L457.25,445.90 L457.50,445.90 L457.75,445.90 L458.00,445.90 L458.25,445.90 L458.50,445.90 L458.75,445.90 L459.00,445.90 L459.25,445.90 L459.50,445.90 L459.75,445.90 L460.00,445.90 L460.25,445.90 L460.50,445.90 L460.75,445.90 L461.00,445.90 L461.25,445.90 L461.50,445.90 L461.75,445.90 L462.00,445.90 L462.25,445.90 L462.50,445.90 L462.75,445.90 L463.00,445.90 L463.25,445.90 L463.50,445.90 L463.75,445.90 L464.00,445.90 L464.25,445.90 L464.50,445.90 L464.75,445.90 L465.00,445.90 L465.25,445.90 L465.50,445.90 L465.75,445.90 L466.00,445.90 L466.25,445.90 L466.50,445.90 L466.75,445.90 L467.00,445.90 L467.25,445.90 L467.50,445.90 L467.75,445.90 L468.00,445.90 L468.25,445.90 L468.50,445.90 L468.75,445.90 L469.00,445.90 L469.25,445.90 L469.50,445.90 L469.75,445.90 L470.00,445.90 L470.25,445.90 L470.50,445.90 L470.75,445.90 L471.00,445.90 L471.25,445.90 L471.50,445.90 L471.75,445.90 L472.00,445.90 L472.25,445.90 L472.50,445.90 L472.75,445.90 L473.00,445.90 L473.25,445.90 L473.50,445.90 L473.75,445.90 L474.00,445.90 L474.25,445.90 L474.50,445.90 L474.75,445.90 L475.00,445.90 L475.25,445.90 L475.50,445.90 L475.75,445.90 L476.00,445.90 L476.25,445.90 L476.50,445.90 L476.75,445.90 L477.00,445.90 L477.25,445.90 L477.50,445.90 L477.75,445.90 L478.00,445.90 L478.25,445.90 L478.50,445.90 L478.75,445.90 L479.00,445.90 L479.25,445.90 L479.50,445.90 L479.75,445.90 L480.00,445.90 L480.25,445.90 L480.50,445.90 L480.75,445.90 L481.00,445.90 L481.25,445.90 L481.50,445.90 L481.75,445.90 L482.00,445.90" fill="none" stroke="#3a3a3a" stroke-width="0.9"/>
<path d="M332.4,447.3 L329.29999999999995,452.7 L335.5,452.7 Z" fill="#000"/>
<path d="M376.3,447.3 L373.2,452.7 L379.40000000000003,452.7 Z" fill="#000"/>
<line x1="286.7" y1="262.9" x2="286.7" y2="451.5" stroke="#555" stroke-width="1.2"/>
<line x1="281.70" y1="446.50" x2="286.7" y2="446.50" stroke="#333" stroke-width="0.9"/>
<text x="275.50" y="446.50" transform="rotate(-90 275.50 446.50)" text-anchor="middle" dy="2.2" font-size="6.3" fill="#444" stroke="#444" stroke-width="0.12">0</text>
<line x1="284.70" y1="439.20" x2="286.7" y2="439.20" stroke="#333" stroke-width="0.9"/>
<line x1="284.70" y1="431.90" x2="286.7" y2="431.90" stroke="#333" stroke-width="0.9"/>
<line x1="284.70" y1="424.60" x2="286.7" y2="424.60" stroke="#333" stroke-width="0.9"/>
<line x1="284.70" y1="417.30" x2="286.7" y2="417.30" stroke="#333" stroke-width="0.9"/>
<line x1="281.70" y1="410.00" x2="286.7" y2="410.00" stroke="#333" stroke-width="0.9"/>
<text x="275.50" y="410.00" transform="rotate(-90 275.50 410.00)" text-anchor="middle" dy="2.2" font-size="6.3" fill="#444" stroke="#444" stroke-width="0.12">500</text>
<line x1="284.70" y1="402.70" x2="286.7" y2="402.70" stroke="#333" stroke-width="0.9"/>
<line x1="284.70" y1="395.40" x2="286.7" y2="395.40" stroke="#333" stroke-width="0.9"/>
<line x1="284.70" y1="388.10" x2="286.7" y2="388.10" stroke="#333" stroke-width="0.9"/>
<line x1="284.70" y1="380.80" x2="286.7" y2="380.80" stroke="#333" stroke-width="0.9"/>
<line x1="281.70" y1="373.50" x2="286.7" y2="373.50" stroke="#333" stroke-width="0.9"/>
<text x="275.50" y="373.50" transform="rotate(-90 275.50 373.50)" text-anchor="middle" dy="2.2" font-size="6.3" fill="#444" stroke="#444" stroke-width="0.12">1000</text>
<line x1="284.70" y1="366.20" x2="286.7" y2="366.20" stroke="#333" stroke-width="0.9"/>
<line x1="284.70" y1="358.90" x2="286.7" y2="358.90" stroke="#333" stroke-width="0.9"/>
<line x1="284.70" y1="351.60" x2="286.7" y2="351.60" stroke="#333" stroke-width="0.9"/>
<line x1="284.70" y1="344.30" x2="286.7" y2="344.30" stroke="#333" stroke-width="0.9"/>
<line x1="281.70" y1="337.00" x2="286.7" y2="337.00" stroke="#333" stroke-width="0.9"/>
<text x="275.50" y="337.00" transform="rotate(-90 275.50 337.00)" text-anchor="middle" dy="2.2" font-size="6.3" fill="#444" stroke="#444" stroke-width="0.12">1500</text>
<line x1="284.70" y1="329.70" x2="286.7" y2="329.70" stroke="#333" stroke-width="0.9"/>
<line x1="284.70" y1="322.40" x2="286.7" y2="322.40" stroke="#333" stroke-width="0.9"/>
<line x1="284.70" y1="315.10" x2="286.7" y2="315.10" stroke="#333" stroke-width="0.9"/>
<line x1="284.70" y1="307.80" x2="286.7" y2="307.80" stroke="#333" stroke-width="0.9"/>
<line x1="281.70" y1="300.50" x2="286.7" y2="300.50" stroke="#333" stroke-width="0.9"/>
<text x="275.50" y="300.50" transform="rotate(-90 275.50 300.50)" text-anchor="middle" dy="2.2" font-size="6.3" fill="#444" stroke="#444" stroke-width="0.12">2000</text>
<line x1="284.70" y1="293.20" x2="286.7" y2="293.20" stroke="#333" stroke-width="0.9"/>
<line x1="284.70" y1="285.90" x2="286.7" y2="285.90" stroke="#333" stroke-width="0.9"/>
<line x1="284.70" y1="278.60" x2="286.7" y2="278.60" stroke="#333" stroke-width="0.9"/>
<line x1="284.70" y1="271.30" x2="286.7" y2="271.30" stroke="#333" stroke-width="0.9"/>
<line x1="281.70" y1="264.00" x2="286.7" y2="264.00" stroke="#333" stroke-width="0.9"/>
<line x1="281.7" y1="446.5" x2="498.3" y2="446.5" stroke="#222" stroke-width="1.1"/>
<line x1="286.70" y1="446.5" x2="286.70" y2="450.1" stroke="#333" stroke-width="0.9"/>
<line x1="295.48" y1="446.5" x2="295.48" y2="448.7" stroke="#333" stroke-width="0.9"/>
<line x1="304.26" y1="446.5" x2="304.26" y2="448.7" stroke="#333" stroke-width="0.9"/>
<line x1="313.04" y1="446.5" x2="313.04" y2="448.7" stroke="#333" stroke-width="0.9"/>
<line x1="321.82" y1="446.5" x2="321.82" y2="448.7" stroke="#333" stroke-width="0.9"/>
<line x1="330.60" y1="446.5" x2="330.60" y2="450.1" stroke="#333" stroke-width="0.9"/>
<line x1="339.38" y1="446.5" x2="339.38" y2="448.7" stroke="#333" stroke-width="0.9"/>
<line x1="348.16" y1="446.5" x2="348.16" y2="448.7" stroke="#333" stroke-width="0.9"/>
<line x1="356.94" y1="446.5" x2="356.94" y2="448.7" stroke="#333" stroke-width="0.9"/>
<line x1="365.72" y1="446.5" x2="365.72" y2="448.7" stroke="#333" stroke-width="0.9"/>
<line x1="374.50" y1="446.5" x2="374.50" y2="450.1" stroke="#333" stroke-width="0.9"/>
<line x1="383.28" y1="446.5" x2="383.28" y2="448.7" stroke="#333" stroke-width="0.9"/>
<line x1="392.06" y1="446.5" x2="392.06" y2="448.7" stroke="#333" stroke-width="0.9"/>
<line x1="400.84" y1="446.5" x2="400.84" y2="448.7" stroke="#333" stroke-width="0.9"/>
<line x1="409.62" y1="446.5" x2="409.62" y2="448.7" stroke="#333" stroke-width="0.9"/>
<line x1="418.40" y1="446.5" x2="418.40" y2="450.1" stroke="#333" stroke-width="0.9"/>
<line x1="427.18" y1="446.5" x2="427.18" y2="448.7" stroke="#333" stroke-width="0.9"/>
<line x1="435.96" y1="446.5" x2="435.96" y2="448.7" stroke="#333" stroke-width="0.9"/>
<line x1="444.74" y1="446.5" x2="444.74" y2="448.7" stroke="#333" stroke-width="0.9"/>
<line x1="453.52" y1="446.5" x2="453.52" y2="448.7" stroke="#333" stroke-width="0.9"/>
<line x1="462.30" y1="446.5" x2="462.30" y2="450.1" stroke="#333" stroke-width="0.9"/>
<line x1="471.08" y1="446.5" x2="471.08" y2="448.7" stroke="#333" stroke-width="0.9"/>
<line x1="479.86" y1="446.5" x2="479.86" y2="448.7" stroke="#333" stroke-width="0.9"/>
<line x1="488.64" y1="446.5" x2="488.64" y2="448.7" stroke="#333" stroke-width="0.9"/>
<line x1="497.42" y1="446.5" x2="497.42" y2="448.7" stroke="#333" stroke-width="0.9"/>
<text x="286.70" y="459.8" text-anchor="middle" font-size="6.8" fill="#444" stroke="#444" stroke-width="0.12">0</text>
<text x="330.60" y="459.8" text-anchor="middle" font-size="6.8" fill="#444" stroke="#444" stroke-width="0.12">50</text>
<text x="374.50" y="459.8" text-anchor="middle" font-size="6.8" fill="#444" stroke="#444" stroke-width="0.12">100</text>
<text x="418.40" y="459.8" text-anchor="middle" font-size="6.8" fill="#444" stroke="#444" stroke-width="0.12">150</text>
<text x="462.30" y="459.8" text-anchor="middle" font-size="6.8" fill="#444" stroke="#444" stroke-width="0.12">200</text>
<text x="125.5" y="88.7" font-size="12.8" fill="#333" letter-spacing="0.58">NXS2 + DMSO</text>
<text x="125.5" y="118.70" font-size="12.8" fill="#333" letter-spacing="0.58">Dip G1:</text>
<text x="175.2" y="118.70" font-size="12.8" fill="#333" letter-spacing="0.58">47.29 %</text>
<text x="125.5" y="134.10" font-size="12.8" fill="#333" letter-spacing="0.58">Dip S:</text>
<text x="175.2" y="134.10" font-size="12.8" fill="#333" letter-spacing="0.58">30.81 %</text>
<text x="125.5" y="149.40" font-size="12.8" fill="#333" letter-spacing="0.58">Dip G2:</text>
<text x="175.2" y="149.40" font-size="12.8" fill="#333" letter-spacing="0.58">21.90 %</text>
<text x="362.2" y="93.1" font-size="12.8" fill="#333" letter-spacing="0.58">NXS2 + 50mcM RV</text>
<text x="363.8" y="123.20" font-size="12.8" fill="#333" letter-spacing="0.58">Dip G1:</text>
<text x="415.1" y="123.20" font-size="12.8" fill="#333" letter-spacing="0.58">84.83 %</text>
<text x="363.8" y="138.60" font-size="12.8" fill="#333" letter-spacing="0.58">Dip S:</text>
<text x="413.2" y="138.60" font-size="12.8" fill="#333" letter-spacing="0.58">6.24 %</text>
<text x="363.8" y="154.20" font-size="12.8" fill="#333" letter-spacing="0.58">Dip G2:</text>
<text x="415.1" y="154.20" font-size="12.8" fill="#333" letter-spacing="0.58">8.93 %</text>
<text x="125.5" y="292.9" font-size="12.8" fill="#333" letter-spacing="0.58">M21 + DMSO</text>
<text x="125.5" y="322.30" font-size="12.8" fill="#333" letter-spacing="0.58">Dip G1:</text>
<text x="175.2" y="322.30" font-size="12.8" fill="#333" letter-spacing="0.58">46.34 %</text>
<text x="125.5" y="337.90" font-size="12.8" fill="#333" letter-spacing="0.58">Dip S:</text>
<text x="175.2" y="337.90" font-size="12.8" fill="#333" letter-spacing="0.58">21.80 %</text>
<text x="125.5" y="353.50" font-size="12.8" fill="#333" letter-spacing="0.58">Dip G2:</text>
<text x="175.2" y="353.50" font-size="12.8" fill="#333" letter-spacing="0.58">31.25 %</text>
<text x="362.4" y="292.7" font-size="12.8" fill="#333" letter-spacing="0.58">M21 + 50mcM RV</text>
<text x="364.3" y="321.80" font-size="12.8" fill="#333" letter-spacing="0.58">Dip G1:</text>
<text x="415.8" y="321.80" font-size="12.8" fill="#333" letter-spacing="0.58">76.58 %</text>
<text x="364.3" y="337.90" font-size="12.8" fill="#333" letter-spacing="0.58">Dip S:</text>
<text x="415.2" y="337.90" font-size="12.8" fill="#333" letter-spacing="0.58">14.07 %</text>
<text x="364.3" y="353.50" font-size="12.8" fill="#333" letter-spacing="0.58">Dip G2:</text>
<text x="415.3" y="353.50" font-size="12.8" fill="#333" letter-spacing="0.58">9.35 %</text>
<text x="89.5" y="57.3" font-size="12.5" fill="#333">G1</text>
<text x="118" y="202.3" font-size="13" fill="#333">S</text>
<text x="138.3" y="182" font-size="12.5" fill="#333">G2</text>
<text x="31.4" y="518.2" font-size="16" font-weight="bold" fill="#000">B</text>
<line x1="100.5" y1="520.36" x2="100.5" y2="820.6" stroke="#a0a0a0" stroke-width="1"/>
<line x1="96.2" y1="520.36" x2="100.5" y2="520.36" stroke="#a0a0a0" stroke-width="1"/>
<text x="88.6" y="524.86" text-anchor="end" font-size="12.6" fill="#404040" letter-spacing="0.4">110</text>
<line x1="96.2" y1="557.84" x2="100.5" y2="557.84" stroke="#a0a0a0" stroke-width="1"/>
<text x="88.6" y="562.34" text-anchor="end" font-size="12.6" fill="#404040" letter-spacing="0.4">90</text>
<line x1="96.2" y1="595.32" x2="100.5" y2="595.32" stroke="#a0a0a0" stroke-width="1"/>
<text x="88.6" y="599.82" text-anchor="end" font-size="12.6" fill="#404040" letter-spacing="0.4">70</text>
<line x1="96.2" y1="632.80" x2="100.5" y2="632.80" stroke="#a0a0a0" stroke-width="1"/>
<text x="88.6" y="637.30" text-anchor="end" font-size="12.6" fill="#404040" letter-spacing="0.4">50</text>
<line x1="96.2" y1="670.28" x2="100.5" y2="670.28" stroke="#a0a0a0" stroke-width="1"/>
<text x="88.6" y="674.78" text-anchor="end" font-size="12.6" fill="#404040" letter-spacing="0.4">30</text>
<line x1="96.2" y1="707.76" x2="100.5" y2="707.76" stroke="#a0a0a0" stroke-width="1"/>
<text x="88.6" y="712.26" text-anchor="end" font-size="12.6" fill="#404040" letter-spacing="0.4">10</text>
<line x1="96.2" y1="745.24" x2="100.5" y2="745.24" stroke="#a0a0a0" stroke-width="1"/>
<text x="88.6" y="749.74" text-anchor="end" font-size="12.6" fill="#404040" letter-spacing="0.4">-10</text>
<text transform="translate(68.7 657.2) rotate(-90)" text-anchor="middle" font-size="13.3" fill="#505050">Cells (%)</text>
<rect x="113.50" y="539.10" width="17.4" height="92.76" fill="#808080"/>
<rect x="113.50" y="631.86" width="17.4" height="55.17" fill="#b1b1b1"/>
<rect x="113.50" y="687.03" width="17.4" height="39.47" fill="#000"/>
<line x1="122.20" y1="539.10" x2="122.20" y2="536.66" stroke="#1a1a1a" stroke-width="1.2"/>
<line x1="120.20" y1="536.66" x2="124.20" y2="536.66" stroke="#1a1a1a" stroke-width="1.3"/>
<line x1="122.20" y1="631.86" x2="122.20" y2="627.55" stroke="#1a1a1a" stroke-width="1.2"/>
<line x1="120.20" y1="627.55" x2="124.20" y2="627.55" stroke="#1a1a1a" stroke-width="1.3"/>
<line x1="122.20" y1="687.03" x2="122.20" y2="683.47" stroke="#1a1a1a" stroke-width="1.2"/>
<line x1="120.20" y1="683.47" x2="124.20" y2="683.47" stroke="#1a1a1a" stroke-width="1.3"/>
<rect x="156.87" y="539.10" width="17.4" height="89.39" fill="#808080"/>
<rect x="156.87" y="628.49" width="17.4" height="53.60" fill="#b1b1b1"/>
<rect x="156.87" y="682.09" width="17.4" height="44.41" fill="#000"/>
<line x1="165.57" y1="539.10" x2="165.57" y2="533.85" stroke="#1a1a1a" stroke-width="1.2"/>
<line x1="163.57" y1="533.85" x2="167.57" y2="533.85" stroke="#1a1a1a" stroke-width="1.3"/>
<line x1="165.57" y1="628.49" x2="165.57" y2="620.81" stroke="#1a1a1a" stroke-width="1.2"/>
<line x1="163.57" y1="620.81" x2="167.57" y2="620.81" stroke="#1a1a1a" stroke-width="1.3"/>
<line x1="165.57" y1="682.09" x2="165.57" y2="673.84" stroke="#1a1a1a" stroke-width="1.2"/>
<line x1="163.57" y1="673.84" x2="167.57" y2="673.84" stroke="#1a1a1a" stroke-width="1.3"/>
<rect x="200.24" y="539.10" width="17.4" height="147.11" fill="#808080"/>
<rect x="200.24" y="686.21" width="17.4" height="31.67" fill="#b1b1b1"/>
<rect x="200.24" y="717.88" width="17.4" height="8.62" fill="#000"/>
<line x1="208.94" y1="539.10" x2="208.94" y2="535.54" stroke="#1a1a1a" stroke-width="1.2"/>
<line x1="206.94" y1="535.54" x2="210.94" y2="535.54" stroke="#1a1a1a" stroke-width="1.3"/>
<line x1="208.94" y1="717.88" x2="208.94" y2="712.44" stroke="#1a1a1a" stroke-width="1.2"/>
<line x1="206.94" y1="712.44" x2="210.94" y2="712.44" stroke="#1a1a1a" stroke-width="1.3"/>
<rect x="243.61" y="539.10" width="17.4" height="80.96" fill="#808080"/>
<rect x="243.61" y="620.06" width="17.4" height="62.03" fill="#b1b1b1"/>
<rect x="243.61" y="682.09" width="17.4" height="44.41" fill="#000"/>
<line x1="252.31" y1="539.10" x2="252.31" y2="535.54" stroke="#1a1a1a" stroke-width="1.2"/>
<line x1="250.31" y1="535.54" x2="254.31" y2="535.54" stroke="#1a1a1a" stroke-width="1.3"/>
<line x1="252.31" y1="620.06" x2="252.31" y2="613.31" stroke="#1a1a1a" stroke-width="1.2"/>
<line x1="250.31" y1="613.31" x2="254.31" y2="613.31" stroke="#1a1a1a" stroke-width="1.3"/>
<line x1="252.31" y1="682.09" x2="252.31" y2="677.59" stroke="#1a1a1a" stroke-width="1.2"/>
<line x1="250.31" y1="677.59" x2="254.31" y2="677.59" stroke="#1a1a1a" stroke-width="1.3"/>
<rect x="286.98" y="539.10" width="17.4" height="117.87" fill="#808080"/>
<rect x="286.98" y="656.97" width="17.4" height="62.22" fill="#b1b1b1"/>
<rect x="286.98" y="719.19" width="17.4" height="7.31" fill="#000"/>
<line x1="295.68" y1="539.10" x2="295.68" y2="531.79" stroke="#1a1a1a" stroke-width="1.2"/>
<line x1="293.68" y1="531.79" x2="297.68" y2="531.79" stroke="#1a1a1a" stroke-width="1.3"/>
<line x1="295.68" y1="656.97" x2="295.68" y2="644.23" stroke="#1a1a1a" stroke-width="1.2"/>
<line x1="293.68" y1="644.23" x2="297.68" y2="644.23" stroke="#1a1a1a" stroke-width="1.3"/>
<line x1="295.68" y1="719.19" x2="295.68" y2="714.13" stroke="#1a1a1a" stroke-width="1.2"/>
<line x1="293.68" y1="714.13" x2="297.68" y2="714.13" stroke="#1a1a1a" stroke-width="1.3"/>
<rect x="330.35" y="539.10" width="17.4" height="120.12" fill="#808080"/>
<rect x="330.35" y="659.22" width="17.4" height="59.97" fill="#b1b1b1"/>
<rect x="330.35" y="719.19" width="17.4" height="7.31" fill="#000"/>
<line x1="339.05" y1="539.10" x2="339.05" y2="532.54" stroke="#1a1a1a" stroke-width="1.2"/>
<line x1="337.05" y1="532.54" x2="341.05" y2="532.54" stroke="#1a1a1a" stroke-width="1.3"/>
<line x1="339.05" y1="659.22" x2="339.05" y2="647.04" stroke="#1a1a1a" stroke-width="1.2"/>
<line x1="337.05" y1="647.04" x2="341.05" y2="647.04" stroke="#1a1a1a" stroke-width="1.3"/>
<line x1="339.05" y1="719.19" x2="339.05" y2="713.76" stroke="#1a1a1a" stroke-width="1.2"/>
<line x1="337.05" y1="713.76" x2="341.05" y2="713.76" stroke="#1a1a1a" stroke-width="1.3"/>
<rect x="373.72" y="539.10" width="17.4" height="166.22" fill="#808080"/>
<rect x="373.72" y="705.32" width="17.4" height="17.52" fill="#b1b1b1"/>
<rect x="373.72" y="722.85" width="17.4" height="3.65" fill="#000"/>
<line x1="382.42" y1="539.10" x2="382.42" y2="538.35" stroke="#1a1a1a" stroke-width="1.2"/>
<line x1="380.42" y1="538.35" x2="384.42" y2="538.35" stroke="#1a1a1a" stroke-width="1.3"/>
<line x1="382.42" y1="722.85" x2="382.42" y2="721.72" stroke="#1a1a1a" stroke-width="1.2"/>
<line x1="380.42" y1="721.72" x2="384.42" y2="721.72" stroke="#1a1a1a" stroke-width="1.3"/>
<rect x="417.09" y="539.10" width="17.4" height="126.68" fill="#808080"/>
<rect x="417.09" y="665.78" width="17.4" height="57.06" fill="#b1b1b1"/>
<rect x="417.09" y="722.85" width="17.4" height="3.65" fill="#000"/>
<line x1="425.79" y1="539.10" x2="425.79" y2="532.35" stroke="#1a1a1a" stroke-width="1.2"/>
<line x1="423.79" y1="532.35" x2="427.79" y2="532.35" stroke="#1a1a1a" stroke-width="1.3"/>
<line x1="425.79" y1="665.78" x2="425.79" y2="656.04" stroke="#1a1a1a" stroke-width="1.2"/>
<line x1="423.79" y1="656.04" x2="427.79" y2="656.04" stroke="#1a1a1a" stroke-width="1.3"/>
<line x1="425.79" y1="722.85" x2="425.79" y2="720.22" stroke="#1a1a1a" stroke-width="1.2"/>
<line x1="423.79" y1="720.22" x2="427.79" y2="720.22" stroke="#1a1a1a" stroke-width="1.3"/>
<path d="M209,525.6 L211.3,528.8 L206.7,528.8 Z" fill="#111"/>
<path d="M210.1,681.8000000000001 L212.4,685.0 L207.79999999999998,685.0 Z" fill="#111"/>
<path d="M382.5,526.5 L384.8,529.6999999999999 L380.2,529.6999999999999 Z" fill="#111"/>
<path d="M382.5,702.2 L384.8,705.4 L380.2,705.4 Z" fill="#111"/>
<line x1="100.5" y1="726.50" x2="447.46" y2="726.50" stroke="#a0a0a0" stroke-width="1"/>
<line x1="143.87" y1="726.50" x2="143.87" y2="758.2" stroke="#a0a0a0" stroke-width="1"/>
<line x1="187.24" y1="726.50" x2="187.24" y2="789.4" stroke="#a0a0a0" stroke-width="1"/>
<line x1="230.61" y1="726.50" x2="230.61" y2="758.2" stroke="#a0a0a0" stroke-width="1"/>
<line x1="317.35" y1="726.50" x2="317.35" y2="758.2" stroke="#a0a0a0" stroke-width="1"/>
<line x1="360.72" y1="726.50" x2="360.72" y2="789.4" stroke="#a0a0a0" stroke-width="1"/>
<line x1="404.09" y1="726.50" x2="404.09" y2="758.2" stroke="#a0a0a0" stroke-width="1"/>
<line x1="447.46" y1="726.50" x2="447.46" y2="820.6" stroke="#a0a0a0" stroke-width="1"/>
<line x1="272.6" y1="514" x2="272.6" y2="821" stroke="#222" stroke-width="1.6" stroke-dasharray="3.4,1.7"/>
<text x="122.50" y="751.5" text-anchor="middle" font-size="12.4" fill="#404040" letter-spacing="0.8">Media</text>
<text x="165.87" y="751.5" text-anchor="middle" font-size="12.4" fill="#404040" letter-spacing="0.8">DMSO</text>
<text x="209.24" y="751.5" text-anchor="middle" font-size="12.4" fill="#404040" letter-spacing="0.8">50</text>
<text x="252.61" y="751.5" text-anchor="middle" font-size="12.4" fill="#404040" letter-spacing="0.8">1</text>
<text x="295.98" y="751.5" text-anchor="middle" font-size="12.4" fill="#404040" letter-spacing="0.8">Media</text>
<text x="339.35" y="751.5" text-anchor="middle" font-size="12.4" fill="#404040" letter-spacing="0.8">DMSO</text>
<text x="382.72" y="751.5" text-anchor="middle" font-size="12.4" fill="#404040" letter-spacing="0.8">50</text>
<text x="426.09" y="751.5" text-anchor="middle" font-size="12.4" fill="#404040" letter-spacing="0.8">1</text>
<text x="231.2" y="783.2" text-anchor="middle" font-size="12.6" fill="#404040" letter-spacing="0.5">RV (mcM)</text>
<text x="403.8" y="783.2" text-anchor="middle" font-size="12.6" fill="#404040" letter-spacing="0.5">RV (mcM)</text>
<text x="186.8" y="814.4" text-anchor="middle" font-size="12.6" fill="#404040" letter-spacing="1">M21</text>
<text x="360.6" y="814.4" text-anchor="middle" font-size="12.6" fill="#404040" letter-spacing="1">NXS2</text>
<rect x="454.1" y="604.10" width="4.8" height="4.8" fill="#808080"/>
<text transform="translate(462.1 610.20) scale(1.12 1)" font-size="10.4" font-weight="bold" fill="#000" stroke="#000" stroke-width="0.2" letter-spacing="-0.45">G0/G1</text>
<rect x="454.1" y="620.70" width="4.8" height="4.8" fill="#b1b1b1"/>
<text transform="translate(462.1 626.80) scale(1.12 1)" font-size="10.4" font-weight="bold" fill="#000" stroke="#000" stroke-width="0.2" letter-spacing="-0.45">S</text>
<rect x="454.1" y="637.30" width="4.8" height="4.8" fill="#000"/>
<text transform="translate(462.1 643.40) scale(1.12 1)" font-size="10.4" font-weight="bold" fill="#000" stroke="#000" stroke-width="0.2" letter-spacing="-0.45">G2/M</text>
</svg></body></html>
